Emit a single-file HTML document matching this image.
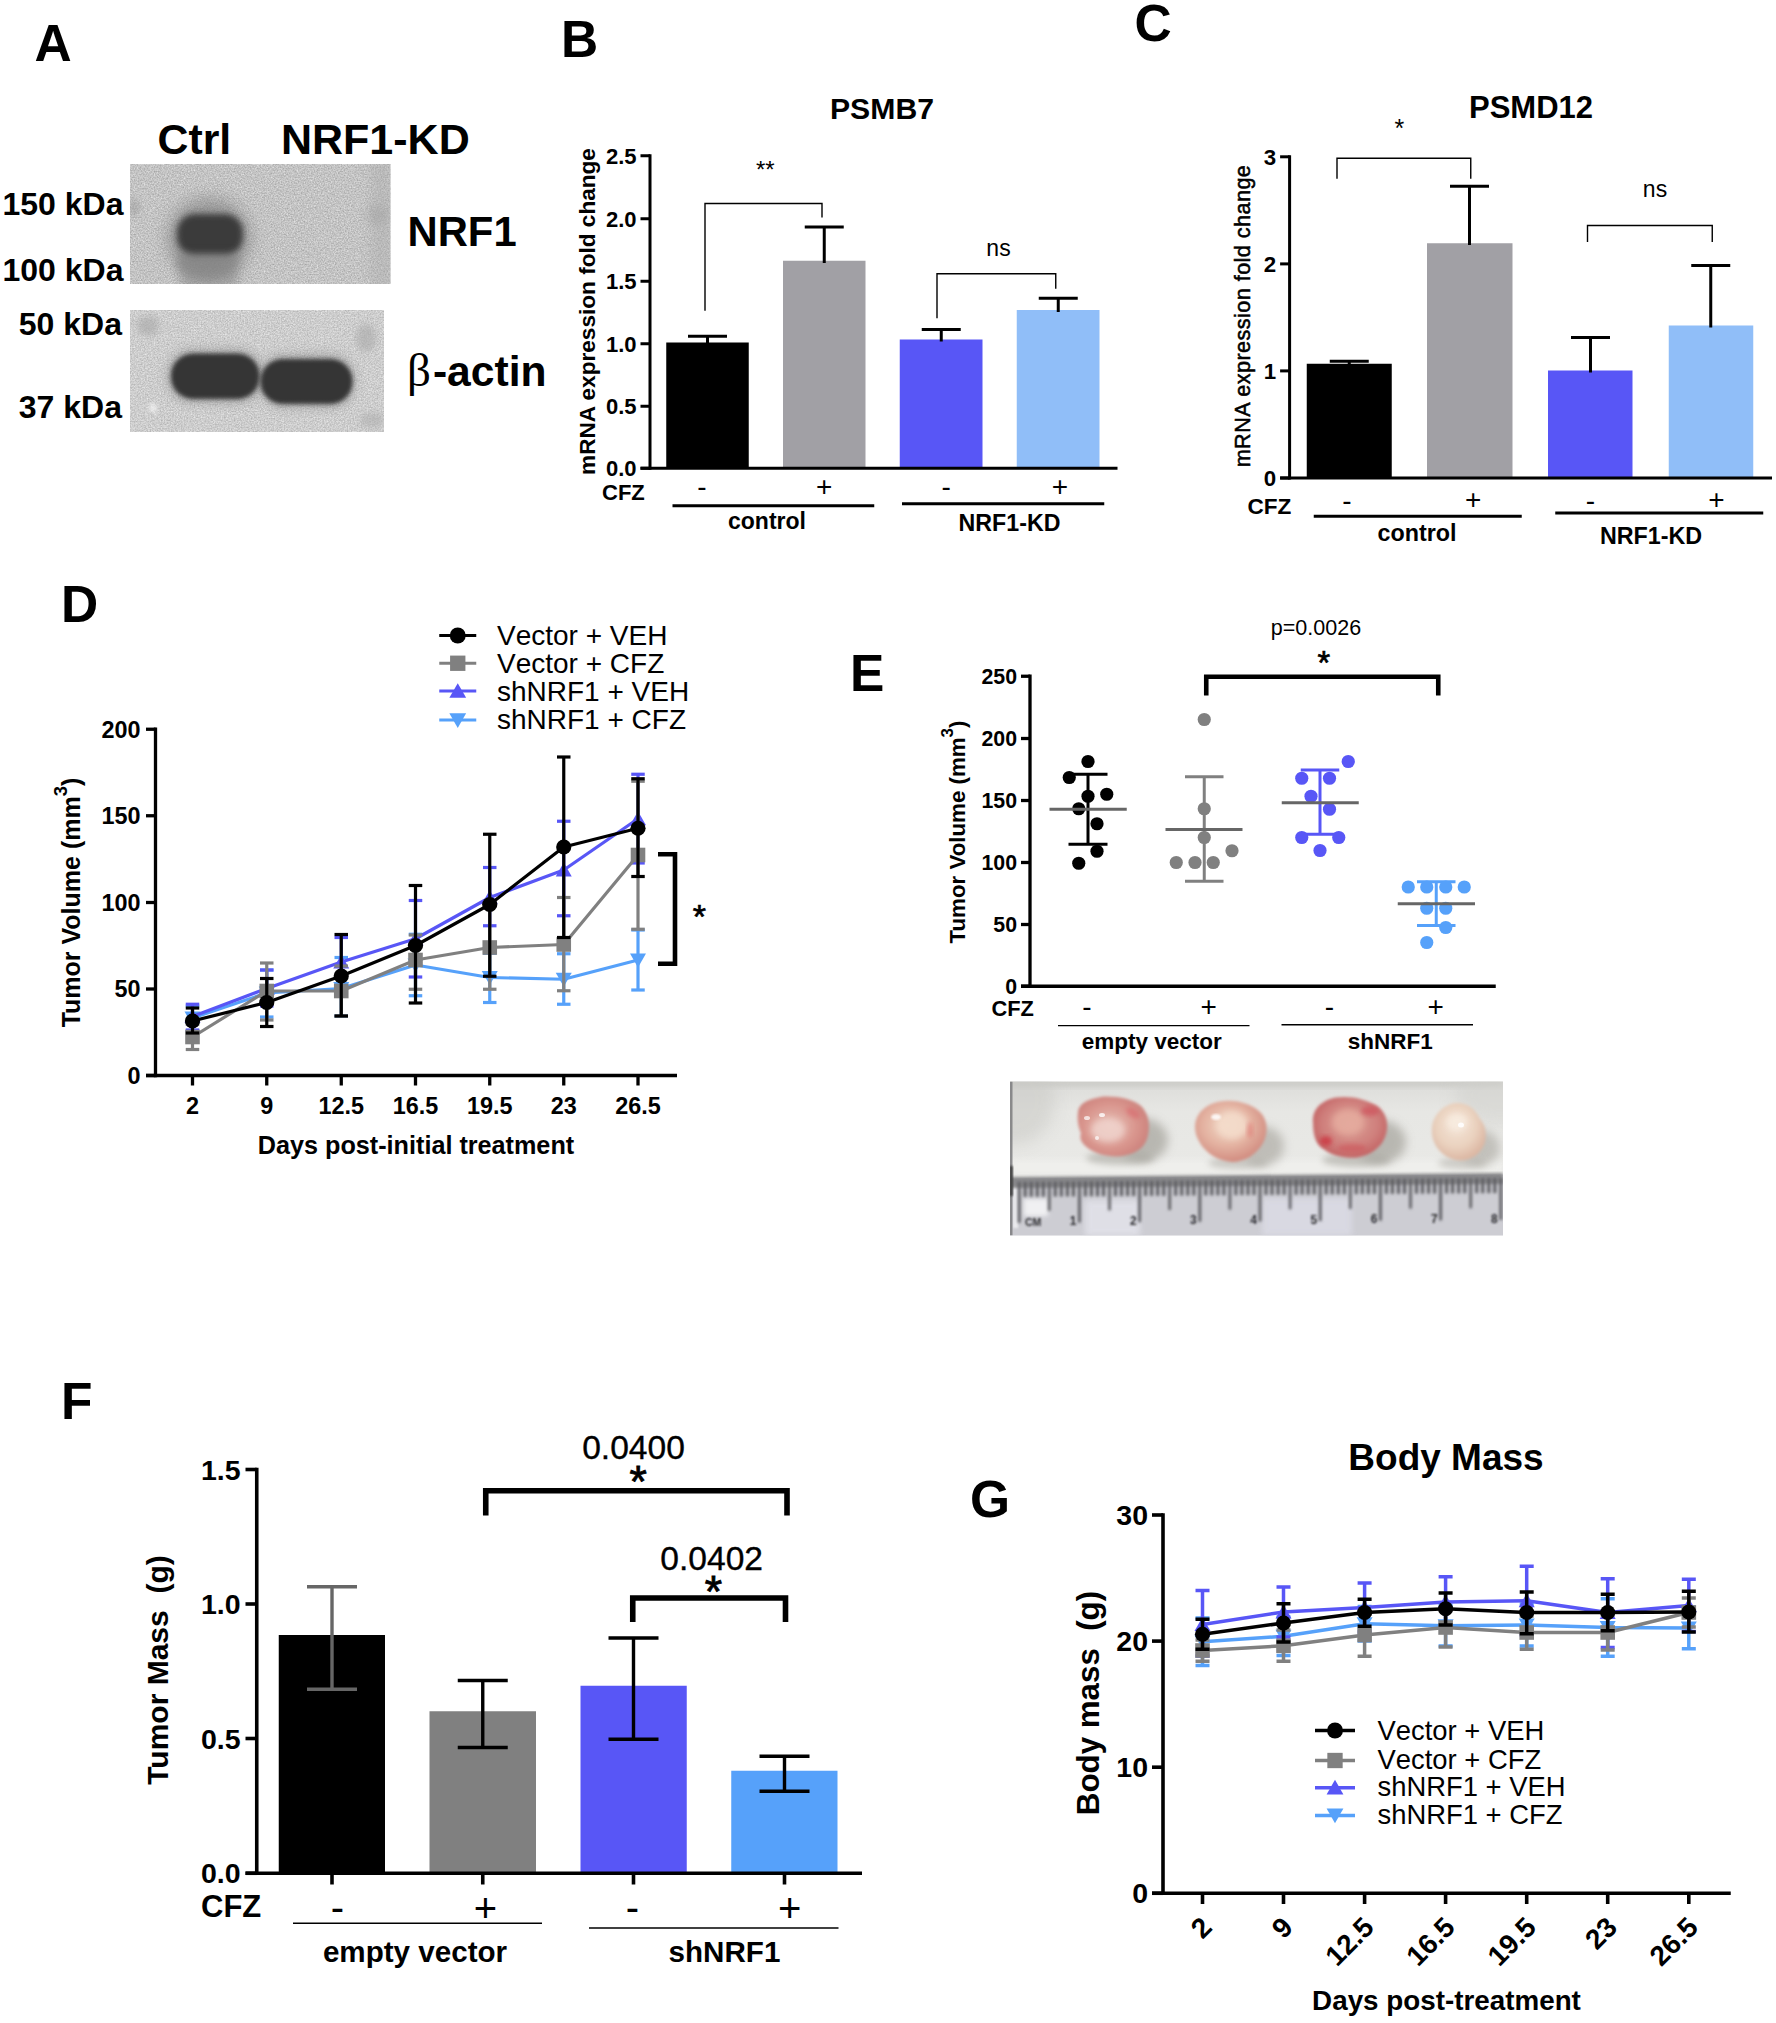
<!DOCTYPE html>
<html lang="en"><head><meta charset="utf-8"><title>Figure</title>
<style>html,body{margin:0;padding:0;background:#fff}svg{display:block}text{white-space:pre}</style>
</head><body>
<svg width="1776" height="2023" viewBox="0 0 1776 2023" font-family='"Liberation Sans", sans-serif'>
<defs>
<filter id="noise" x="0" y="0" width="100%" height="100%" color-interpolation-filters="sRGB">
<feTurbulence type="fractalNoise" baseFrequency="0.7" numOctaves="2" seed="7"/>
<feColorMatrix type="matrix" values="0.4 0 0 0 0.565  0.4 0 0 0 0.565  0.4 0 0 0 0.565  0 0 0 0 1"/>
</filter>
<filter id="noise2" x="0" y="0" width="100%" height="100%" color-interpolation-filters="sRGB">
<feTurbulence type="fractalNoise" baseFrequency="0.7" numOctaves="2" seed="11"/>
<feColorMatrix type="matrix" values="0.35 0 0 0 0.63  0.35 0 0 0 0.63  0.35 0 0 0 0.63  0 0 0 0 1"/>
</filter>
<filter id="b2" x="-30%" y="-30%" width="160%" height="160%"><feGaussianBlur stdDeviation="2"/></filter>
<filter id="b3" x="-30%" y="-30%" width="160%" height="160%"><feGaussianBlur stdDeviation="3.2"/></filter>
<filter id="b5" x="-40%" y="-40%" width="180%" height="180%"><feGaussianBlur stdDeviation="5"/></filter>
<filter id="b8" x="-50%" y="-50%" width="200%" height="200%"><feGaussianBlur stdDeviation="8"/></filter>
<filter id="b15" x="-10%" y="-10%" width="120%" height="120%"><feGaussianBlur stdDeviation="1.5"/></filter>
<filter id="b1" x="-10%" y="-10%" width="120%" height="120%"><feGaussianBlur stdDeviation="1.1"/></filter>
<filter id="b07" x="-10%" y="-10%" width="120%" height="120%"><feGaussianBlur stdDeviation="0.7"/></filter>
<clipPath id="cb1"><rect x="130" y="164" width="260.5" height="120"/></clipPath>
<clipPath id="cb2"><rect x="130" y="310" width="254" height="122"/></clipPath>
<clipPath id="cph"><rect x="1010" y="1081.5" width="493" height="154"/></clipPath>
<linearGradient id="phbg" x1="0" y1="0" x2="0" y2="1">
<stop offset="0" stop-color="#dcdcd9"/><stop offset="0.2" stop-color="#e7e7e4"/><stop offset="0.6" stop-color="#e9e9e6"/><stop offset="1" stop-color="#ececea"/>
</linearGradient>
<radialGradient id="t1" cx="0.45" cy="0.5" r="0.62"><stop offset="0" stop-color="#e6bfb6"/><stop offset="0.6" stop-color="#d9958d"/><stop offset="1" stop-color="#c97d78"/></radialGradient>
<radialGradient id="t2" cx="0.45" cy="0.4" r="0.6"><stop offset="0" stop-color="#eed6c4"/><stop offset="0.55" stop-color="#e4b3a2"/><stop offset="1" stop-color="#d28c80"/></radialGradient>
<radialGradient id="t3" cx="0.5" cy="0.45" r="0.62"><stop offset="0" stop-color="#dba196"/><stop offset="0.6" stop-color="#cf7f7c"/><stop offset="1" stop-color="#bf5a5c"/></radialGradient>
<radialGradient id="t4" cx="0.45" cy="0.4" r="0.6"><stop offset="0" stop-color="#f3e3d5"/><stop offset="0.6" stop-color="#ead2bf"/><stop offset="1" stop-color="#dcb7a3"/></radialGradient>
</defs>
<rect width="1776" height="2023" fill="#fff"/>
<g id="panelA">
<text x="34.5" y="61.3" font-size="51.5" font-weight="700" text-anchor="start" fill="#000">A</text>
<text x="157.5" y="154" font-size="42.8" font-weight="700" text-anchor="start" fill="#000">Ctrl</text>
<text x="281" y="154" font-size="43" font-weight="700" text-anchor="start" fill="#000">NRF1-KD</text>
<g clip-path="url(#cb1)">
<rect x="130" y="164" width="260.5" height="120" fill="#c5c5c5"/>
<rect x="130" y="164" width="260.5" height="120" filter="url(#noise)" opacity="0.85"/>
<ellipse cx="209" cy="238" rx="42" ry="40" fill="#7c7c7c" opacity="0.62" filter="url(#b8)"/>
<ellipse cx="207" cy="263" rx="31" ry="17" fill="#808080" opacity="0.5" filter="url(#b5)"/>
<rect x="177" y="214" width="66" height="41" rx="18" fill="#3a3a3a" filter="url(#b3)"/>
<ellipse cx="134" cy="207" rx="6" ry="9" fill="#9a9a9a" opacity="0.5" filter="url(#b3)"/>
<rect x="180" y="254" width="58" height="36" fill="#858585" opacity="0.45" filter="url(#b5)"/>
<ellipse cx="378" cy="215" rx="10" ry="10" fill="#a0a0a0" opacity="0.5" filter="url(#b5)"/>
<rect x="370" y="160" width="24" height="130" fill="#a8a8a8" opacity="0.35" filter="url(#b5)"/>
</g>
<g clip-path="url(#cb2)">
<rect x="130" y="310" width="254" height="122" fill="#cecece"/>
<rect x="130" y="310" width="254" height="122" filter="url(#noise2)" opacity="0.85"/>
<rect x="166" y="348" width="98" height="56" rx="26" fill="#8f8f8f" opacity="0.5" filter="url(#b5)"/>
<rect x="258" y="353" width="98" height="56" rx="26" fill="#8f8f8f" opacity="0.5" filter="url(#b5)"/>
<rect x="171" y="353.5" width="88.5" height="45.5" rx="22" fill="#353535" filter="url(#b2)"/>
<rect x="260.5" y="359" width="92" height="45" rx="22" fill="#353535" filter="url(#b2)"/>
<ellipse cx="148" cy="326" rx="11" ry="10" fill="#a8a8a8" opacity="0.6" filter="url(#b3)"/>
<ellipse cx="366" cy="338" rx="10" ry="14" fill="#aaaaaa" opacity="0.6" filter="url(#b3)"/>
<ellipse cx="153" cy="408" rx="4" ry="4" fill="#f2f2f2" opacity="0.9" filter="url(#b2)"/>
<ellipse cx="372" cy="420" rx="12" ry="8" fill="#b0b0b0" opacity="0.6" filter="url(#b3)"/>
</g>
<text x="123.5" y="214.5" font-size="32" font-weight="700" text-anchor="end" fill="#000">150 kDa</text>
<text x="123.5" y="280.5" font-size="32" font-weight="700" text-anchor="end" fill="#000">100 kDa</text>
<text x="122" y="335" font-size="32" font-weight="700" text-anchor="end" fill="#000">50 kDa</text>
<text x="122" y="417.5" font-size="32" font-weight="700" text-anchor="end" fill="#000">37 kDa</text>
<text x="407.5" y="246" font-size="41.8" font-weight="700" text-anchor="start" fill="#000">NRF1</text>
<text x="407" y="386" font-size="42.6" font-weight="700"><tspan font-family='"Liberation Serif", "DejaVu Serif", serif' font-weight="400" font-size="47">β</tspan><tspan dx="2">-actin</tspan></text>
</g>
<g id="panelB">
<text x="561" y="56.8" font-size="51.5" font-weight="700" text-anchor="start" fill="#000">B</text>
<text x="882" y="119.3" font-size="30.2" font-weight="700" text-anchor="middle" fill="#000">PSMB7</text>
<rect x="666.25" y="342.5" width="82.5" height="125.75" fill="#000"/>
<rect x="783" y="260.75" width="82.5" height="207.5" fill="#a1a0a5"/>
<rect x="899.75" y="339.5" width="82.75" height="128.75" fill="#5856f6"/>
<rect x="1016.75" y="310" width="82.75" height="158.25" fill="#90bef8"/>
<line x1="707.5" y1="336.25" x2="707.5" y2="344" stroke="#000" stroke-width="3.0" stroke-linecap="butt"/>
<line x1="688.0" y1="336.25" x2="727.0" y2="336.25" stroke="#000" stroke-width="3.0" stroke-linecap="butt"/>
<line x1="824.25" y1="227" x2="824.25" y2="263" stroke="#000" stroke-width="3.0" stroke-linecap="butt"/>
<line x1="804.75" y1="227" x2="843.75" y2="227" stroke="#000" stroke-width="3.0" stroke-linecap="butt"/>
<line x1="941.25" y1="329.5" x2="941.25" y2="341.5" stroke="#000" stroke-width="3.0" stroke-linecap="butt"/>
<line x1="921.75" y1="329.5" x2="960.75" y2="329.5" stroke="#000" stroke-width="3.0" stroke-linecap="butt"/>
<line x1="1058.25" y1="298.25" x2="1058.25" y2="312" stroke="#000" stroke-width="3.0" stroke-linecap="butt"/>
<line x1="1038.75" y1="298.25" x2="1077.75" y2="298.25" stroke="#000" stroke-width="3.0" stroke-linecap="butt"/>
<line x1="650" y1="154.25" x2="650" y2="469.75" stroke="#000" stroke-width="3.0" stroke-linecap="butt"/>
<line x1="640.5" y1="468.25" x2="1117.5" y2="468.25" stroke="#000" stroke-width="3.0" stroke-linecap="butt"/>
<line x1="640.5" y1="155.75" x2="650" y2="155.75" stroke="#000" stroke-width="3.0" stroke-linecap="butt"/>
<text x="636.5" y="163.55" font-size="22" font-weight="700" text-anchor="end" fill="#000">2.5</text>
<line x1="640.5" y1="218.75" x2="650" y2="218.75" stroke="#000" stroke-width="3.0" stroke-linecap="butt"/>
<text x="636.5" y="226.55" font-size="22" font-weight="700" text-anchor="end" fill="#000">2.0</text>
<line x1="640.5" y1="281.25" x2="650" y2="281.25" stroke="#000" stroke-width="3.0" stroke-linecap="butt"/>
<text x="636.5" y="289.05" font-size="22" font-weight="700" text-anchor="end" fill="#000">1.5</text>
<line x1="640.5" y1="343.75" x2="650" y2="343.75" stroke="#000" stroke-width="3.0" stroke-linecap="butt"/>
<text x="636.5" y="351.55" font-size="22" font-weight="700" text-anchor="end" fill="#000">1.0</text>
<line x1="640.5" y1="406.25" x2="650" y2="406.25" stroke="#000" stroke-width="3.0" stroke-linecap="butt"/>
<text x="636.5" y="414.05" font-size="22" font-weight="700" text-anchor="end" fill="#000">0.5</text>
<line x1="640.5" y1="468.25" x2="650" y2="468.25" stroke="#000" stroke-width="3.0" stroke-linecap="butt"/>
<text x="636.5" y="476.05" font-size="22" font-weight="700" text-anchor="end" fill="#000">0.0</text>
<path d="M705 310.75V203.5H822V217.5" stroke="#000" stroke-width="1.4" fill="none" stroke-linejoin="miter"/>
<path d="M937 318.25V273.75H1055.75V288.75" stroke="#000" stroke-width="1.4" fill="none" stroke-linejoin="miter"/>
<text x="755.9" y="177.5" font-size="24" font-weight="400" text-anchor="start" fill="#000">**</text>
<text x="998.5" y="256.25" font-size="23" font-weight="400" text-anchor="middle" fill="#000">ns</text>
<text x="602" y="500" font-size="22" font-weight="700" text-anchor="start" fill="#000">CFZ</text>
<text x="702" y="495.7" font-size="28" font-weight="400" text-anchor="middle" fill="#000">-</text>
<text x="824.25" y="496.2" font-size="28" font-weight="400" text-anchor="middle" fill="#000">+</text>
<text x="946.25" y="495.7" font-size="28" font-weight="400" text-anchor="middle" fill="#000">-</text>
<text x="1060" y="496.2" font-size="28" font-weight="400" text-anchor="middle" fill="#000">+</text>
<text x="767" y="528.6" font-size="23" font-weight="700" text-anchor="middle" fill="#000">control</text>
<text x="1009.5" y="530.5" font-size="23.2" font-weight="700" text-anchor="middle" fill="#000">NRF1-KD</text>
<text x="595" y="311.5" font-size="22.6" font-weight="700" text-anchor="middle" fill="#000" transform="rotate(-90 595 311.5)">mRNA expression fold change</text>
<line x1="672.5" y1="505.75" x2="874.25" y2="505.75" stroke="#000" stroke-width="3.0" stroke-linecap="butt"/>
<line x1="902" y1="503.75" x2="1104.25" y2="503.75" stroke="#000" stroke-width="3.0" stroke-linecap="butt"/>
</g>
<g id="panelC">
<text x="1134.5" y="41" font-size="51.5" font-weight="700" text-anchor="start" fill="#000">C</text>
<text x="1531" y="118" font-size="31" font-weight="700" text-anchor="middle" fill="#000">PSMD12</text>
<rect x="1306.75" y="363.75" width="85.0" height="114.25" fill="#000"/>
<rect x="1427" y="243.25" width="85.5" height="234.75" fill="#a1a0a5"/>
<rect x="1548" y="370.5" width="84.5" height="107.5" fill="#5856f6"/>
<rect x="1668.75" y="325.5" width="84.5" height="152.5" fill="#90bef8"/>
<line x1="1349.25" y1="361.25" x2="1349.25" y2="365" stroke="#000" stroke-width="3.0" stroke-linecap="butt"/>
<line x1="1329.75" y1="361.25" x2="1368.75" y2="361.25" stroke="#000" stroke-width="3.0" stroke-linecap="butt"/>
<line x1="1469.5" y1="186.25" x2="1469.5" y2="245" stroke="#000" stroke-width="3.0" stroke-linecap="butt"/>
<line x1="1450.0" y1="186.25" x2="1489.0" y2="186.25" stroke="#000" stroke-width="3.0" stroke-linecap="butt"/>
<line x1="1590.5" y1="337.5" x2="1590.5" y2="372.5" stroke="#000" stroke-width="3.0" stroke-linecap="butt"/>
<line x1="1571.0" y1="337.5" x2="1610.0" y2="337.5" stroke="#000" stroke-width="3.0" stroke-linecap="butt"/>
<line x1="1710.75" y1="265.5" x2="1710.75" y2="327.5" stroke="#000" stroke-width="3.0" stroke-linecap="butt"/>
<line x1="1691.25" y1="265.5" x2="1730.25" y2="265.5" stroke="#000" stroke-width="3.0" stroke-linecap="butt"/>
<line x1="1289.6" y1="155.3" x2="1289.6" y2="479.5" stroke="#000" stroke-width="3.0" stroke-linecap="butt"/>
<line x1="1280.1" y1="478" x2="1772" y2="478" stroke="#000" stroke-width="3.0" stroke-linecap="butt"/>
<line x1="1280.1" y1="156.8" x2="1289.6" y2="156.8" stroke="#000" stroke-width="3.0" stroke-linecap="butt"/>
<text x="1276.1" y="164.70000000000002" font-size="22.3" font-weight="700" text-anchor="end" fill="#000">3</text>
<line x1="1280.1" y1="263.9" x2="1289.6" y2="263.9" stroke="#000" stroke-width="3.0" stroke-linecap="butt"/>
<text x="1276.1" y="271.79999999999995" font-size="22.3" font-weight="700" text-anchor="end" fill="#000">2</text>
<line x1="1280.1" y1="370.9" x2="1289.6" y2="370.9" stroke="#000" stroke-width="3.0" stroke-linecap="butt"/>
<text x="1276.1" y="378.79999999999995" font-size="22.3" font-weight="700" text-anchor="end" fill="#000">1</text>
<line x1="1280.1" y1="478" x2="1289.6" y2="478" stroke="#000" stroke-width="3.0" stroke-linecap="butt"/>
<text x="1276.1" y="485.9" font-size="22.3" font-weight="700" text-anchor="end" fill="#000">0</text>
<path d="M1337 178.75V158.25H1470.75V178.75" stroke="#000" stroke-width="1.4" fill="none" stroke-linejoin="miter"/>
<path d="M1587.5 242V225.5H1712.25V242" stroke="#000" stroke-width="1.4" fill="none" stroke-linejoin="miter"/>
<text x="1394.6" y="136.5" font-size="25" font-weight="400" text-anchor="start" fill="#000">*</text>
<text x="1655" y="196.75" font-size="23" font-weight="400" text-anchor="middle" fill="#000">ns</text>
<text x="1247.5" y="514.4" font-size="22.6" font-weight="700" text-anchor="start" fill="#000">CFZ</text>
<text x="1347" y="510" font-size="28" font-weight="400" text-anchor="middle" fill="#000">-</text>
<text x="1473.25" y="509.3" font-size="28" font-weight="400" text-anchor="middle" fill="#000">+</text>
<text x="1590.5" y="510" font-size="28" font-weight="400" text-anchor="middle" fill="#000">-</text>
<text x="1716.5" y="509.3" font-size="28" font-weight="400" text-anchor="middle" fill="#000">+</text>
<text x="1417" y="541.25" font-size="23.3" font-weight="700" text-anchor="middle" fill="#000">control</text>
<text x="1651" y="543.75" font-size="23.3" font-weight="700" text-anchor="middle" fill="#000">NRF1-KD</text>
<text x="1249.6" y="316" font-size="21.6" font-weight="400" text-anchor="middle" fill="#000" transform="rotate(-90 1249.6 316)" stroke="#000" stroke-width="0.55" letter-spacing="0.45">mRNA expression fold change</text>
<line x1="1313.75" y1="516.25" x2="1521.75" y2="516.25" stroke="#000" stroke-width="3.0" stroke-linecap="butt"/>
<line x1="1555.25" y1="513" x2="1763.25" y2="513" stroke="#000" stroke-width="3.0" stroke-linecap="butt"/>
</g>
<g id="panelD">
<text x="61" y="621.5" font-size="51.5" font-weight="700" text-anchor="start" fill="#000">D</text>
<line x1="192.5" y1="1006" x2="192.5" y2="1031" stroke="#56a1fa" stroke-width="3.2" stroke-linecap="butt"/>
<line x1="185.75" y1="1006" x2="199.25" y2="1006" stroke="#56a1fa" stroke-width="3.2" stroke-linecap="butt"/>
<line x1="185.75" y1="1031" x2="199.25" y2="1031" stroke="#56a1fa" stroke-width="3.2" stroke-linecap="butt"/>
<line x1="266.75" y1="970" x2="266.75" y2="1017" stroke="#56a1fa" stroke-width="3.2" stroke-linecap="butt"/>
<line x1="260.0" y1="970" x2="273.5" y2="970" stroke="#56a1fa" stroke-width="3.2" stroke-linecap="butt"/>
<line x1="260.0" y1="1017" x2="273.5" y2="1017" stroke="#56a1fa" stroke-width="3.2" stroke-linecap="butt"/>
<line x1="341.25" y1="957.5" x2="341.25" y2="1016" stroke="#56a1fa" stroke-width="3.2" stroke-linecap="butt"/>
<line x1="334.5" y1="957.5" x2="348.0" y2="957.5" stroke="#56a1fa" stroke-width="3.2" stroke-linecap="butt"/>
<line x1="334.5" y1="1016" x2="348.0" y2="1016" stroke="#56a1fa" stroke-width="3.2" stroke-linecap="butt"/>
<line x1="415.5" y1="934.25" x2="415.5" y2="995.75" stroke="#56a1fa" stroke-width="3.2" stroke-linecap="butt"/>
<line x1="408.75" y1="934.25" x2="422.25" y2="934.25" stroke="#56a1fa" stroke-width="3.2" stroke-linecap="butt"/>
<line x1="408.75" y1="995.75" x2="422.25" y2="995.75" stroke="#56a1fa" stroke-width="3.2" stroke-linecap="butt"/>
<line x1="489.75" y1="953.25" x2="489.75" y2="1002.5" stroke="#56a1fa" stroke-width="3.2" stroke-linecap="butt"/>
<line x1="483.0" y1="953.25" x2="496.5" y2="953.25" stroke="#56a1fa" stroke-width="3.2" stroke-linecap="butt"/>
<line x1="483.0" y1="1002.5" x2="496.5" y2="1002.5" stroke="#56a1fa" stroke-width="3.2" stroke-linecap="butt"/>
<line x1="563.75" y1="953.75" x2="563.75" y2="1004.25" stroke="#56a1fa" stroke-width="3.2" stroke-linecap="butt"/>
<line x1="557.0" y1="953.75" x2="570.5" y2="953.75" stroke="#56a1fa" stroke-width="3.2" stroke-linecap="butt"/>
<line x1="557.0" y1="1004.25" x2="570.5" y2="1004.25" stroke="#56a1fa" stroke-width="3.2" stroke-linecap="butt"/>
<line x1="638" y1="930" x2="638" y2="990" stroke="#56a1fa" stroke-width="3.2" stroke-linecap="butt"/>
<line x1="631.25" y1="930" x2="644.75" y2="930" stroke="#56a1fa" stroke-width="3.2" stroke-linecap="butt"/>
<line x1="631.25" y1="990" x2="644.75" y2="990" stroke="#56a1fa" stroke-width="3.2" stroke-linecap="butt"/>
<polyline points="192.5,1018 266.75,993 341.25,988.5 415.5,965 489.75,977.5 563.75,979.25 638,960" fill="none" stroke="#56a1fa" stroke-width="3.2" stroke-linejoin="round"/>
<path d="M184.5 1011.5L200.5 1011.5L192.5 1025.5Z" fill="#56a1fa"/>
<path d="M258.75 986.5L274.75 986.5L266.75 1000.5Z" fill="#56a1fa"/>
<path d="M333.25 982.0L349.25 982.0L341.25 996.0Z" fill="#56a1fa"/>
<path d="M407.5 958.5L423.5 958.5L415.5 972.5Z" fill="#56a1fa"/>
<path d="M481.75 971.0L497.75 971.0L489.75 985.0Z" fill="#56a1fa"/>
<path d="M555.75 972.75L571.75 972.75L563.75 986.75Z" fill="#56a1fa"/>
<path d="M630.0 953.5L646.0 953.5L638 967.5Z" fill="#56a1fa"/>
<line x1="192.5" y1="1004.25" x2="192.5" y2="1030" stroke="#5856f6" stroke-width="3.2" stroke-linecap="butt"/>
<line x1="185.75" y1="1004.25" x2="199.25" y2="1004.25" stroke="#5856f6" stroke-width="3.2" stroke-linecap="butt"/>
<line x1="185.75" y1="1030" x2="199.25" y2="1030" stroke="#5856f6" stroke-width="3.2" stroke-linecap="butt"/>
<line x1="266.75" y1="970" x2="266.75" y2="1006" stroke="#5856f6" stroke-width="3.2" stroke-linecap="butt"/>
<line x1="260.0" y1="970" x2="273.5" y2="970" stroke="#5856f6" stroke-width="3.2" stroke-linecap="butt"/>
<line x1="260.0" y1="1006" x2="273.5" y2="1006" stroke="#5856f6" stroke-width="3.2" stroke-linecap="butt"/>
<line x1="341.25" y1="937.5" x2="341.25" y2="986.5" stroke="#5856f6" stroke-width="3.2" stroke-linecap="butt"/>
<line x1="334.5" y1="937.5" x2="348.0" y2="937.5" stroke="#5856f6" stroke-width="3.2" stroke-linecap="butt"/>
<line x1="334.5" y1="986.5" x2="348.0" y2="986.5" stroke="#5856f6" stroke-width="3.2" stroke-linecap="butt"/>
<line x1="415.5" y1="900.5" x2="415.5" y2="977" stroke="#5856f6" stroke-width="3.2" stroke-linecap="butt"/>
<line x1="408.75" y1="900.5" x2="422.25" y2="900.5" stroke="#5856f6" stroke-width="3.2" stroke-linecap="butt"/>
<line x1="408.75" y1="977" x2="422.25" y2="977" stroke="#5856f6" stroke-width="3.2" stroke-linecap="butt"/>
<line x1="489.75" y1="867.5" x2="489.75" y2="925.75" stroke="#5856f6" stroke-width="3.2" stroke-linecap="butt"/>
<line x1="483.0" y1="867.5" x2="496.5" y2="867.5" stroke="#5856f6" stroke-width="3.2" stroke-linecap="butt"/>
<line x1="483.0" y1="925.75" x2="496.5" y2="925.75" stroke="#5856f6" stroke-width="3.2" stroke-linecap="butt"/>
<line x1="563.75" y1="821.25" x2="563.75" y2="915.75" stroke="#5856f6" stroke-width="3.2" stroke-linecap="butt"/>
<line x1="557.0" y1="821.25" x2="570.5" y2="821.25" stroke="#5856f6" stroke-width="3.2" stroke-linecap="butt"/>
<line x1="557.0" y1="915.75" x2="570.5" y2="915.75" stroke="#5856f6" stroke-width="3.2" stroke-linecap="butt"/>
<line x1="638" y1="774.25" x2="638" y2="863" stroke="#5856f6" stroke-width="3.2" stroke-linecap="butt"/>
<line x1="631.25" y1="774.25" x2="644.75" y2="774.25" stroke="#5856f6" stroke-width="3.2" stroke-linecap="butt"/>
<line x1="631.25" y1="863" x2="644.75" y2="863" stroke="#5856f6" stroke-width="3.2" stroke-linecap="butt"/>
<polyline points="192.5,1016.5 266.75,988.5 341.25,962 415.5,938.75 489.75,897.5 563.75,870 638,818.75" fill="none" stroke="#5856f6" stroke-width="3.2" stroke-linejoin="round"/>
<path d="M184.5 1023.0L200.5 1023.0L192.5 1009.0Z" fill="#5856f6"/>
<path d="M258.75 995.0L274.75 995.0L266.75 981.0Z" fill="#5856f6"/>
<path d="M333.25 968.5L349.25 968.5L341.25 954.5Z" fill="#5856f6"/>
<path d="M407.5 945.25L423.5 945.25L415.5 931.25Z" fill="#5856f6"/>
<path d="M481.75 904.0L497.75 904.0L489.75 890.0Z" fill="#5856f6"/>
<path d="M555.75 876.5L571.75 876.5L563.75 862.5Z" fill="#5856f6"/>
<path d="M630.0 825.25L646.0 825.25L638 811.25Z" fill="#5856f6"/>
<line x1="192.5" y1="1024.5" x2="192.5" y2="1049.5" stroke="#808080" stroke-width="3.2" stroke-linecap="butt"/>
<line x1="185.75" y1="1024.5" x2="199.25" y2="1024.5" stroke="#808080" stroke-width="3.2" stroke-linecap="butt"/>
<line x1="185.75" y1="1049.5" x2="199.25" y2="1049.5" stroke="#808080" stroke-width="3.2" stroke-linecap="butt"/>
<line x1="266.75" y1="963" x2="266.75" y2="1020" stroke="#808080" stroke-width="3.2" stroke-linecap="butt"/>
<line x1="260.0" y1="963" x2="273.5" y2="963" stroke="#808080" stroke-width="3.2" stroke-linecap="butt"/>
<line x1="260.0" y1="1020" x2="273.5" y2="1020" stroke="#808080" stroke-width="3.2" stroke-linecap="butt"/>
<line x1="341.25" y1="966" x2="341.25" y2="1016" stroke="#808080" stroke-width="3.2" stroke-linecap="butt"/>
<line x1="334.5" y1="966" x2="348.0" y2="966" stroke="#808080" stroke-width="3.2" stroke-linecap="butt"/>
<line x1="334.5" y1="1016" x2="348.0" y2="1016" stroke="#808080" stroke-width="3.2" stroke-linecap="butt"/>
<line x1="415.5" y1="935" x2="415.5" y2="989.25" stroke="#808080" stroke-width="3.2" stroke-linecap="butt"/>
<line x1="408.75" y1="935" x2="422.25" y2="935" stroke="#808080" stroke-width="3.2" stroke-linecap="butt"/>
<line x1="408.75" y1="989.25" x2="422.25" y2="989.25" stroke="#808080" stroke-width="3.2" stroke-linecap="butt"/>
<line x1="489.75" y1="905.75" x2="489.75" y2="989.25" stroke="#808080" stroke-width="3.2" stroke-linecap="butt"/>
<line x1="483.0" y1="905.75" x2="496.5" y2="905.75" stroke="#808080" stroke-width="3.2" stroke-linecap="butt"/>
<line x1="483.0" y1="989.25" x2="496.5" y2="989.25" stroke="#808080" stroke-width="3.2" stroke-linecap="butt"/>
<line x1="563.75" y1="897.5" x2="563.75" y2="990.75" stroke="#808080" stroke-width="3.2" stroke-linecap="butt"/>
<line x1="557.0" y1="897.5" x2="570.5" y2="897.5" stroke="#808080" stroke-width="3.2" stroke-linecap="butt"/>
<line x1="557.0" y1="990.75" x2="570.5" y2="990.75" stroke="#808080" stroke-width="3.2" stroke-linecap="butt"/>
<line x1="638" y1="781.25" x2="638" y2="929.25" stroke="#808080" stroke-width="3.2" stroke-linecap="butt"/>
<line x1="631.25" y1="781.25" x2="644.75" y2="781.25" stroke="#808080" stroke-width="3.2" stroke-linecap="butt"/>
<line x1="631.25" y1="929.25" x2="644.75" y2="929.25" stroke="#808080" stroke-width="3.2" stroke-linecap="butt"/>
<polyline points="192.5,1037 266.75,991 341.25,991 415.5,960 489.75,947.5 563.75,944.5 638,855" fill="none" stroke="#808080" stroke-width="3.2" stroke-linejoin="round"/>
<rect x="185.2" y="1029.7" width="14.6" height="14.6" fill="#808080"/>
<rect x="259.45" y="983.7" width="14.6" height="14.6" fill="#808080"/>
<rect x="333.95" y="983.7" width="14.6" height="14.6" fill="#808080"/>
<rect x="408.2" y="952.7" width="14.6" height="14.6" fill="#808080"/>
<rect x="482.45" y="940.2" width="14.6" height="14.6" fill="#808080"/>
<rect x="556.45" y="937.2" width="14.6" height="14.6" fill="#808080"/>
<rect x="630.7" y="847.7" width="14.6" height="14.6" fill="#808080"/>
<line x1="192.5" y1="1008" x2="192.5" y2="1033" stroke="#000" stroke-width="3.2" stroke-linecap="butt"/>
<line x1="185.75" y1="1008" x2="199.25" y2="1008" stroke="#000" stroke-width="3.2" stroke-linecap="butt"/>
<line x1="185.75" y1="1033" x2="199.25" y2="1033" stroke="#000" stroke-width="3.2" stroke-linecap="butt"/>
<line x1="266.75" y1="978.5" x2="266.75" y2="1026.5" stroke="#000" stroke-width="3.2" stroke-linecap="butt"/>
<line x1="260.0" y1="978.5" x2="273.5" y2="978.5" stroke="#000" stroke-width="3.2" stroke-linecap="butt"/>
<line x1="260.0" y1="1026.5" x2="273.5" y2="1026.5" stroke="#000" stroke-width="3.2" stroke-linecap="butt"/>
<line x1="341.25" y1="934.5" x2="341.25" y2="1016" stroke="#000" stroke-width="3.2" stroke-linecap="butt"/>
<line x1="334.5" y1="934.5" x2="348.0" y2="934.5" stroke="#000" stroke-width="3.2" stroke-linecap="butt"/>
<line x1="334.5" y1="1016" x2="348.0" y2="1016" stroke="#000" stroke-width="3.2" stroke-linecap="butt"/>
<line x1="415.5" y1="885.5" x2="415.5" y2="1003" stroke="#000" stroke-width="3.2" stroke-linecap="butt"/>
<line x1="408.75" y1="885.5" x2="422.25" y2="885.5" stroke="#000" stroke-width="3.2" stroke-linecap="butt"/>
<line x1="408.75" y1="1003" x2="422.25" y2="1003" stroke="#000" stroke-width="3.2" stroke-linecap="butt"/>
<line x1="489.75" y1="834.25" x2="489.75" y2="976.25" stroke="#000" stroke-width="3.2" stroke-linecap="butt"/>
<line x1="483.0" y1="834.25" x2="496.5" y2="834.25" stroke="#000" stroke-width="3.2" stroke-linecap="butt"/>
<line x1="483.0" y1="976.25" x2="496.5" y2="976.25" stroke="#000" stroke-width="3.2" stroke-linecap="butt"/>
<line x1="563.75" y1="757" x2="563.75" y2="937.5" stroke="#000" stroke-width="3.2" stroke-linecap="butt"/>
<line x1="557.0" y1="757" x2="570.5" y2="757" stroke="#000" stroke-width="3.2" stroke-linecap="butt"/>
<line x1="557.0" y1="937.5" x2="570.5" y2="937.5" stroke="#000" stroke-width="3.2" stroke-linecap="butt"/>
<line x1="638" y1="778.75" x2="638" y2="876.5" stroke="#000" stroke-width="3.2" stroke-linecap="butt"/>
<line x1="631.25" y1="778.75" x2="644.75" y2="778.75" stroke="#000" stroke-width="3.2" stroke-linecap="butt"/>
<line x1="631.25" y1="876.5" x2="644.75" y2="876.5" stroke="#000" stroke-width="3.2" stroke-linecap="butt"/>
<polyline points="192.5,1021 266.75,1002.5 341.25,976 415.5,945.5 489.75,904.5 563.75,847 638,828.25" fill="none" stroke="#000" stroke-width="3.2" stroke-linejoin="round"/>
<circle cx="192.5" cy="1021" r="7.6" fill="#000"/>
<circle cx="266.75" cy="1002.5" r="7.6" fill="#000"/>
<circle cx="341.25" cy="976" r="7.6" fill="#000"/>
<circle cx="415.5" cy="945.5" r="7.6" fill="#000"/>
<circle cx="489.75" cy="904.5" r="7.6" fill="#000"/>
<circle cx="563.75" cy="847" r="7.6" fill="#000"/>
<circle cx="638" cy="828.25" r="7.6" fill="#000"/>
<line x1="155.5" y1="727.6" x2="155.5" y2="1077.15" stroke="#000" stroke-width="3.3" stroke-linecap="butt"/>
<line x1="146" y1="1075.5" x2="677" y2="1075.5" stroke="#000" stroke-width="3.3" stroke-linecap="butt"/>
<line x1="146" y1="729.25" x2="155.5" y2="729.25" stroke="#000" stroke-width="3.3" stroke-linecap="butt"/>
<text x="140.5" y="737.65" font-size="23.4" font-weight="700" text-anchor="end" fill="#000">200</text>
<line x1="146" y1="815.75" x2="155.5" y2="815.75" stroke="#000" stroke-width="3.3" stroke-linecap="butt"/>
<text x="140.5" y="824.15" font-size="23.4" font-weight="700" text-anchor="end" fill="#000">150</text>
<line x1="146" y1="902.5" x2="155.5" y2="902.5" stroke="#000" stroke-width="3.3" stroke-linecap="butt"/>
<text x="140.5" y="910.9" font-size="23.4" font-weight="700" text-anchor="end" fill="#000">100</text>
<line x1="146" y1="989" x2="155.5" y2="989" stroke="#000" stroke-width="3.3" stroke-linecap="butt"/>
<text x="140.5" y="997.4" font-size="23.4" font-weight="700" text-anchor="end" fill="#000">50</text>
<line x1="146" y1="1075.5" x2="155.5" y2="1075.5" stroke="#000" stroke-width="3.3" stroke-linecap="butt"/>
<text x="140.5" y="1083.9" font-size="23.4" font-weight="700" text-anchor="end" fill="#000">0</text>
<line x1="192.5" y1="1075.5" x2="192.5" y2="1085.5" stroke="#000" stroke-width="3.3" stroke-linecap="butt"/>
<text x="192.5" y="1113.5" font-size="23.4" font-weight="700" text-anchor="middle" fill="#000">2</text>
<line x1="266.75" y1="1075.5" x2="266.75" y2="1085.5" stroke="#000" stroke-width="3.3" stroke-linecap="butt"/>
<text x="266.75" y="1113.5" font-size="23.4" font-weight="700" text-anchor="middle" fill="#000">9</text>
<line x1="341.25" y1="1075.5" x2="341.25" y2="1085.5" stroke="#000" stroke-width="3.3" stroke-linecap="butt"/>
<text x="341.25" y="1113.5" font-size="23.4" font-weight="700" text-anchor="middle" fill="#000">12.5</text>
<line x1="415.5" y1="1075.5" x2="415.5" y2="1085.5" stroke="#000" stroke-width="3.3" stroke-linecap="butt"/>
<text x="415.5" y="1113.5" font-size="23.4" font-weight="700" text-anchor="middle" fill="#000">16.5</text>
<line x1="489.75" y1="1075.5" x2="489.75" y2="1085.5" stroke="#000" stroke-width="3.3" stroke-linecap="butt"/>
<text x="489.75" y="1113.5" font-size="23.4" font-weight="700" text-anchor="middle" fill="#000">19.5</text>
<line x1="563.75" y1="1075.5" x2="563.75" y2="1085.5" stroke="#000" stroke-width="3.3" stroke-linecap="butt"/>
<text x="563.75" y="1113.5" font-size="23.4" font-weight="700" text-anchor="middle" fill="#000">23</text>
<line x1="638" y1="1075.5" x2="638" y2="1085.5" stroke="#000" stroke-width="3.3" stroke-linecap="butt"/>
<text x="638" y="1113.5" font-size="23.4" font-weight="700" text-anchor="middle" fill="#000">26.5</text>
<text x="416" y="1153.5" font-size="25.2" font-weight="700" text-anchor="middle" fill="#000">Days post-initial treatment</text>
<text transform="rotate(-90 80 902.5)" x="80" y="902.5" font-size="25" font-weight="700" text-anchor="middle">Tumor Volume (mm<tspan font-size="18.5" dy="-13.5">3</tspan><tspan dy="13.5">)</tspan></text>
<line x1="439.25" y1="635.5" x2="476.25" y2="635.5" stroke="#000" stroke-width="3.2" stroke-linecap="butt"/>
<circle cx="457.75" cy="635.5" r="7.9799999999999995" fill="#000"/>
<text x="497" y="644.5" font-size="28" font-weight="400" text-anchor="start" fill="#000" style="font-kerning:none">Vector + VEH</text>
<line x1="439.25" y1="663.25" x2="476.25" y2="663.25" stroke="#808080" stroke-width="3.2" stroke-linecap="butt"/>
<rect x="450.085" y="655.585" width="15.33" height="15.33" fill="#808080"/>
<text x="497" y="672.5" font-size="28" font-weight="400" text-anchor="start" fill="#000" style="font-kerning:none">Vector + CFZ</text>
<line x1="439.25" y1="691" x2="476.25" y2="691" stroke="#5856f6" stroke-width="3.2" stroke-linecap="butt"/>
<path d="M449.35 697.825L466.15 697.825L457.75 683.125Z" fill="#5856f6"/>
<text x="497" y="700.5" font-size="28" font-weight="400" text-anchor="start" fill="#000" style="font-kerning:none">shNRF1 + VEH</text>
<line x1="439.25" y1="720" x2="476.25" y2="720" stroke="#56a1fa" stroke-width="3.2" stroke-linecap="butt"/>
<path d="M449.35 713.175L466.15 713.175L457.75 727.875Z" fill="#56a1fa"/>
<text x="497" y="728.75" font-size="28" font-weight="400" text-anchor="start" fill="#000" style="font-kerning:none">shNRF1 + CFZ</text>
<path d="M658 854.25H675V963.75H658" stroke="#000" stroke-width="4.6" fill="none" stroke-linejoin="miter"/>
<text x="692.7" y="928" font-size="34" font-weight="400" text-anchor="start" fill="#000" stroke="#000" stroke-width="0.7">*</text>
</g>
<g id="panelE">
<text x="850" y="690.5" font-size="51.5" font-weight="700" text-anchor="start" fill="#000">E</text>
<line x1="1088" y1="774.25" x2="1088" y2="844.25" stroke="#000" stroke-width="3" stroke-linecap="butt"/>
<line x1="1068.5" y1="774.25" x2="1107.5" y2="774.25" stroke="#000" stroke-width="3" stroke-linecap="butt"/>
<line x1="1068.5" y1="844.25" x2="1107.5" y2="844.25" stroke="#000" stroke-width="3" stroke-linecap="butt"/>
<circle cx="1088" cy="761.5" r="6.6" fill="#000"/>
<circle cx="1069.25" cy="777.5" r="6.6" fill="#000"/>
<circle cx="1088" cy="796.25" r="6.6" fill="#000"/>
<circle cx="1106.75" cy="794.25" r="6.6" fill="#000"/>
<circle cx="1078.75" cy="808.75" r="6.6" fill="#000"/>
<circle cx="1097" cy="823.75" r="6.6" fill="#000"/>
<circle cx="1097" cy="851.25" r="6.6" fill="#000"/>
<circle cx="1078.75" cy="863.25" r="6.6" fill="#000"/>
<line x1="1049.5" y1="809.25" x2="1126.75" y2="809.25" stroke="#666666" stroke-width="2.8" stroke-linecap="butt"/>
<line x1="1204.25" y1="776.75" x2="1204.25" y2="881.25" stroke="#808080" stroke-width="3" stroke-linecap="butt"/>
<line x1="1185.0" y1="776.75" x2="1223.5" y2="776.75" stroke="#808080" stroke-width="3" stroke-linecap="butt"/>
<line x1="1185.0" y1="881.25" x2="1223.5" y2="881.25" stroke="#808080" stroke-width="3" stroke-linecap="butt"/>
<circle cx="1204.25" cy="719.5" r="6.6" fill="#808080"/>
<circle cx="1204.25" cy="808.75" r="6.6" fill="#808080"/>
<circle cx="1204.25" cy="837.5" r="6.6" fill="#808080"/>
<circle cx="1232" cy="850.75" r="6.6" fill="#808080"/>
<circle cx="1176.25" cy="862.5" r="6.6" fill="#808080"/>
<circle cx="1195" cy="862.5" r="6.6" fill="#808080"/>
<circle cx="1213.25" cy="862.5" r="6.6" fill="#808080"/>
<line x1="1165.5" y1="829.5" x2="1242.5" y2="829.5" stroke="#666666" stroke-width="2.8" stroke-linecap="butt"/>
<line x1="1320" y1="770" x2="1320" y2="834.25" stroke="#5856f6" stroke-width="3" stroke-linecap="butt"/>
<line x1="1300.75" y1="770" x2="1339.25" y2="770" stroke="#5856f6" stroke-width="3" stroke-linecap="butt"/>
<line x1="1300.75" y1="834.25" x2="1339.25" y2="834.25" stroke="#5856f6" stroke-width="3" stroke-linecap="butt"/>
<circle cx="1348.25" cy="761.5" r="6.6" fill="#5856f6"/>
<circle cx="1301.75" cy="778.25" r="6.6" fill="#5856f6"/>
<circle cx="1329.5" cy="778.25" r="6.6" fill="#5856f6"/>
<circle cx="1311" cy="796.25" r="6.6" fill="#5856f6"/>
<circle cx="1329.5" cy="809.25" r="6.6" fill="#5856f6"/>
<circle cx="1301.75" cy="837.5" r="6.6" fill="#5856f6"/>
<circle cx="1338.75" cy="837.5" r="6.6" fill="#5856f6"/>
<circle cx="1320" cy="850.5" r="6.6" fill="#5856f6"/>
<line x1="1281.75" y1="802.75" x2="1358.75" y2="802.75" stroke="#666666" stroke-width="2.8" stroke-linecap="butt"/>
<line x1="1436.25" y1="881.75" x2="1436.25" y2="925.5" stroke="#56a1fa" stroke-width="3" stroke-linecap="butt"/>
<line x1="1417.0" y1="881.75" x2="1455.5" y2="881.75" stroke="#56a1fa" stroke-width="3" stroke-linecap="butt"/>
<line x1="1417.0" y1="925.5" x2="1455.5" y2="925.5" stroke="#56a1fa" stroke-width="3" stroke-linecap="butt"/>
<circle cx="1408.25" cy="887" r="6.6" fill="#56a1fa"/>
<circle cx="1426.75" cy="887" r="6.6" fill="#56a1fa"/>
<circle cx="1445.75" cy="887" r="6.6" fill="#56a1fa"/>
<circle cx="1464.25" cy="887" r="6.6" fill="#56a1fa"/>
<circle cx="1426.75" cy="908.25" r="6.6" fill="#56a1fa"/>
<circle cx="1445.75" cy="908.25" r="6.6" fill="#56a1fa"/>
<circle cx="1445.75" cy="927.5" r="6.6" fill="#56a1fa"/>
<circle cx="1426.75" cy="942.5" r="6.6" fill="#56a1fa"/>
<line x1="1397.75" y1="903.75" x2="1475" y2="903.75" stroke="#666666" stroke-width="2.8" stroke-linecap="butt"/>
<line x1="1030" y1="674.6" x2="1030" y2="987.9" stroke="#000" stroke-width="3.3" stroke-linecap="butt"/>
<line x1="1021" y1="986.25" x2="1495.75" y2="986.25" stroke="#000" stroke-width="3.3" stroke-linecap="butt"/>
<line x1="1021" y1="676.25" x2="1030" y2="676.25" stroke="#000" stroke-width="3.3" stroke-linecap="butt"/>
<text x="1017" y="683.85" font-size="21.3" font-weight="700" text-anchor="end" fill="#000">250</text>
<line x1="1021" y1="738.5" x2="1030" y2="738.5" stroke="#000" stroke-width="3.3" stroke-linecap="butt"/>
<text x="1017" y="746.1" font-size="21.3" font-weight="700" text-anchor="end" fill="#000">200</text>
<line x1="1021" y1="800.5" x2="1030" y2="800.5" stroke="#000" stroke-width="3.3" stroke-linecap="butt"/>
<text x="1017" y="808.1" font-size="21.3" font-weight="700" text-anchor="end" fill="#000">150</text>
<line x1="1021" y1="862.5" x2="1030" y2="862.5" stroke="#000" stroke-width="3.3" stroke-linecap="butt"/>
<text x="1017" y="870.1" font-size="21.3" font-weight="700" text-anchor="end" fill="#000">100</text>
<line x1="1021" y1="924.5" x2="1030" y2="924.5" stroke="#000" stroke-width="3.3" stroke-linecap="butt"/>
<text x="1017" y="932.1" font-size="21.3" font-weight="700" text-anchor="end" fill="#000">50</text>
<line x1="1021" y1="986.25" x2="1030" y2="986.25" stroke="#000" stroke-width="3.3" stroke-linecap="butt"/>
<text x="1017" y="993.85" font-size="21.3" font-weight="700" text-anchor="end" fill="#000">0</text>
<text transform="rotate(-90 965 832)" x="965" y="832" font-size="22.3" font-weight="700" text-anchor="middle">Tumor Volume (mm<tspan font-size="17" dy="-12.5">3</tspan><tspan dy="12.5">)</tspan></text>
<text x="991.5" y="1015.5" font-size="21.8" font-weight="700" text-anchor="start" fill="#000">CFZ</text>
<text x="1087" y="1015.5" font-size="28" font-weight="400" text-anchor="middle" fill="#000">-</text>
<text x="1208.75" y="1015.5" font-size="28" font-weight="400" text-anchor="middle" fill="#000">+</text>
<text x="1329.5" y="1015.5" font-size="28" font-weight="400" text-anchor="middle" fill="#000">-</text>
<text x="1435.75" y="1015.5" font-size="28" font-weight="400" text-anchor="middle" fill="#000">+</text>
<line x1="1058" y1="1025.6" x2="1249.5" y2="1025.6" stroke="#000" stroke-width="1.4" stroke-linecap="butt"/>
<line x1="1281.5" y1="1024.7" x2="1473" y2="1024.7" stroke="#000" stroke-width="1.4" stroke-linecap="butt"/>
<text x="1151.75" y="1049.4" font-size="22.5" font-weight="700" text-anchor="middle" fill="#000">empty vector</text>
<text x="1390.25" y="1049.4" font-size="22.5" font-weight="700" text-anchor="middle" fill="#000">shNRF1</text>
<path d="M1206.25 695.5V676.75H1438.25V695.5" stroke="#000" stroke-width="4.6" fill="none" stroke-linejoin="miter"/>
<text x="1316" y="635" font-size="21.5" font-weight="400" text-anchor="middle" fill="#000">p=0.0026</text>
<text x="1317.5" y="674.2" font-size="32.5" font-weight="400" text-anchor="start" fill="#000" stroke="#000" stroke-width="0.7">*</text>
<g clip-path="url(#cph)">
<rect x="1010" y="1081.5" width="493" height="154" fill="url(#phbg)"/>
<rect x="1010" y="1078" width="493" height="9" fill="#c4c4c0" opacity="0.7" filter="url(#b3)"/>
<ellipse cx="1015" cy="1100" rx="40" ry="45" fill="#c9c9c5" opacity="0.55" filter="url(#b8)"/>
<ellipse cx="1500" cy="1095" rx="45" ry="30" fill="#cfcfcb" opacity="0.5" filter="url(#b8)"/>
<rect x="1010" y="1160" width="493" height="14" fill="#f1f1ee" opacity="0.8" filter="url(#b3)"/>
<ellipse cx="1142" cy="1140" rx="26" ry="22" fill="#a9a7a0" opacity="0.75" filter="url(#b5)"/>
<ellipse cx="1120" cy="1158" rx="34" ry="7" fill="#a9a7a0" opacity="0.6" filter="url(#b3)"/>
<ellipse cx="1262" cy="1146" rx="22" ry="20" fill="#aeaca5" opacity="0.7" filter="url(#b5)"/>
<ellipse cx="1238" cy="1163" rx="30" ry="6" fill="#aeaca5" opacity="0.55" filter="url(#b3)"/>
<ellipse cx="1380" cy="1142" rx="26" ry="22" fill="#a9a7a0" opacity="0.75" filter="url(#b5)"/>
<ellipse cx="1356" cy="1160" rx="34" ry="7" fill="#a9a7a0" opacity="0.6" filter="url(#b3)"/>
<ellipse cx="1480" cy="1148" rx="20" ry="18" fill="#b3b1aa" opacity="0.7" filter="url(#b5)"/>
<ellipse cx="1462" cy="1163" rx="24" ry="6" fill="#b3b1aa" opacity="0.55" filter="url(#b3)"/>
<g filter="url(#b15)">
<path d="M1078 1112 C1079 1102 1092 1098 1104 1096.5 C1118 1096 1133 1099 1141 1106 C1148 1113 1150.5 1124 1148 1135 C1146 1146 1138 1153 1125 1155.5 C1112 1158 1098 1155 1089 1149 C1082 1144 1079 1139 1081 1133 C1078 1127 1077 1119 1078 1112Z" fill="url(#t1)"/>
<path d="M1195 1127 C1195 1113 1206 1104 1220 1101.5 C1236 1099 1252 1104 1261 1113 C1268 1121 1268 1133 1263 1143 C1257 1154 1245 1162 1232 1162 C1218 1161 1206 1153 1200 1143 C1197 1138 1195 1133 1195 1127Z" fill="url(#t2)"/>
<path d="M1313 1122 C1312 1109 1322 1100 1336 1097.5 C1350 1095.5 1366 1099 1377 1106 C1386 1112 1389 1123 1386 1134 C1383 1146 1372 1155 1357 1157.5 C1342 1159 1326 1154 1318 1144 C1314 1138 1313 1130 1313 1122Z" fill="url(#t3)"/>
<path d="M1432 1128 C1433 1115 1443 1105 1455 1103 C1467 1102 1476 1109 1480 1119 C1485 1124 1487 1133 1485 1142 C1482 1153 1472 1160.5 1460 1160.5 C1448 1160 1438 1152 1434 1142 C1432 1137 1431.5 1133 1432 1128Z" fill="url(#t4)"/>
</g>
<ellipse cx="1108" cy="1130" rx="17" ry="12" fill="#f0d3cc" opacity="0.85" filter="url(#b3)"/>
<ellipse cx="1133" cy="1113" rx="8" ry="4" fill="#d9646a" opacity="0.55" filter="url(#b2)" transform="rotate(35 1133 1113)"/>
<ellipse cx="1102" cy="1115" rx="3" ry="2" fill="#fff" opacity="0.8" filter="url(#b07)"/>
<ellipse cx="1087" cy="1118" rx="3" ry="2" fill="#fff" opacity="0.7" filter="url(#b07)"/>
<ellipse cx="1097" cy="1138" rx="2" ry="2" fill="#fff" opacity="0.7" filter="url(#b07)"/>
<ellipse cx="1232" cy="1125" rx="16" ry="14" fill="#f4dccb" opacity="0.9" filter="url(#b3)"/>
<ellipse cx="1216" cy="1117" rx="5" ry="3" fill="#fff" opacity="0.85" filter="url(#b1)"/>
<ellipse cx="1250" cy="1130" rx="3" ry="8" fill="#dd6d6a" opacity="0.5" filter="url(#b2)"/>
<ellipse cx="1348" cy="1122" rx="16" ry="13" fill="#e6ac9f" opacity="0.85" filter="url(#b3)"/>
<ellipse cx="1326" cy="1141" rx="6" ry="5" fill="#cc2f3a" opacity="0.7" filter="url(#b2)"/>
<ellipse cx="1370" cy="1111" rx="9" ry="5" fill="#cf4f5a" opacity="0.65" filter="url(#b2)"/>
<ellipse cx="1352" cy="1148" rx="14" ry="4" fill="#cd4f55" opacity="0.5" filter="url(#b2)"/>
<ellipse cx="1457" cy="1122" rx="11" ry="9" fill="#f8ece0" opacity="0.9" filter="url(#b3)"/>
<ellipse cx="1461" cy="1125" rx="3" ry="2.5" fill="#fff" opacity="0.9" filter="url(#b07)"/>
<path d="M1010 1178.5 L1503 1174.5 L1503 1236 L1010 1236Z" fill="#cdcdd3"/>
<rect x="1085" y="1200" width="55" height="36" fill="#e4e4ec" opacity="0.8" filter="url(#b3)"/>
<rect x="1262" y="1198" width="90" height="38" fill="#dcdce6" opacity="0.8" filter="url(#b3)"/>
<rect x="1024" y="1199" width="24" height="17" fill="#f4f4f6" opacity="0.9" filter="url(#b2)"/>
<rect x="1013" y="1186" width="5" height="42" fill="#f4f4f6" opacity="0.8" filter="url(#b1)"/>
<path d="M1010 1177 L1503 1173 L1503 1184 L1010 1188Z" fill="#828284" opacity="0.92" filter="url(#b15)"/>
<g filter="url(#b15)" stroke="#5c5c60" stroke-width="2.5">
<line x1="1019.2" y1="1181.9" x2="1019.2" y2="1222.9" stroke-width="2.8"/>
<line x1="1025.2" y1="1181.9" x2="1025.2" y2="1196.9" stroke-width="3.1"/>
<line x1="1031.2" y1="1181.8" x2="1031.2" y2="1196.8" stroke-width="3.1"/>
<line x1="1037.3" y1="1181.8" x2="1037.3" y2="1196.8" stroke-width="3.1"/>
<line x1="1043.3" y1="1181.7" x2="1043.3" y2="1196.7" stroke-width="3.1"/>
<line x1="1049.3" y1="1181.7" x2="1049.3" y2="1210.8" stroke-width="2.6"/>
<line x1="1055.3" y1="1181.6" x2="1055.3" y2="1196.6" stroke-width="3.1"/>
<line x1="1061.3" y1="1181.6" x2="1061.3" y2="1196.6" stroke-width="3.1"/>
<line x1="1067.4" y1="1181.5" x2="1067.4" y2="1196.5" stroke-width="3.1"/>
<line x1="1073.4" y1="1181.5" x2="1073.4" y2="1196.5" stroke-width="3.1"/>
<line x1="1079.4" y1="1181.4" x2="1079.4" y2="1222.6" stroke-width="2.8"/>
<line x1="1085.4" y1="1181.4" x2="1085.4" y2="1196.4" stroke-width="3.1"/>
<line x1="1091.4" y1="1181.3" x2="1091.4" y2="1196.3" stroke-width="3.1"/>
<line x1="1097.5" y1="1181.3" x2="1097.5" y2="1196.3" stroke-width="3.1"/>
<line x1="1103.5" y1="1181.2" x2="1103.5" y2="1196.2" stroke-width="3.1"/>
<line x1="1109.5" y1="1181.2" x2="1109.5" y2="1210.4" stroke-width="2.6"/>
<line x1="1115.5" y1="1181.1" x2="1115.5" y2="1196.1" stroke-width="3.1"/>
<line x1="1121.5" y1="1181.1" x2="1121.5" y2="1196.1" stroke-width="3.1"/>
<line x1="1127.6" y1="1181.0" x2="1127.6" y2="1196.0" stroke-width="3.1"/>
<line x1="1133.6" y1="1181.0" x2="1133.6" y2="1196.0" stroke-width="3.1"/>
<line x1="1139.6" y1="1180.9" x2="1139.6" y2="1222.2" stroke-width="2.8"/>
<line x1="1145.6" y1="1180.9" x2="1145.6" y2="1195.9" stroke-width="3.1"/>
<line x1="1151.6" y1="1180.9" x2="1151.6" y2="1195.9" stroke-width="3.1"/>
<line x1="1157.7" y1="1180.8" x2="1157.7" y2="1195.8" stroke-width="3.1"/>
<line x1="1163.7" y1="1180.8" x2="1163.7" y2="1195.8" stroke-width="3.1"/>
<line x1="1169.7" y1="1180.7" x2="1169.7" y2="1210.0" stroke-width="2.6"/>
<line x1="1175.7" y1="1180.7" x2="1175.7" y2="1195.7" stroke-width="3.1"/>
<line x1="1181.7" y1="1180.6" x2="1181.7" y2="1195.6" stroke-width="3.1"/>
<line x1="1187.8" y1="1180.6" x2="1187.8" y2="1195.6" stroke-width="3.1"/>
<line x1="1193.8" y1="1180.5" x2="1193.8" y2="1195.5" stroke-width="3.1"/>
<line x1="1199.8" y1="1180.5" x2="1199.8" y2="1221.8" stroke-width="2.8"/>
<line x1="1205.8" y1="1180.4" x2="1205.8" y2="1195.4" stroke-width="3.1"/>
<line x1="1211.8" y1="1180.4" x2="1211.8" y2="1195.4" stroke-width="3.1"/>
<line x1="1217.9" y1="1180.3" x2="1217.9" y2="1195.3" stroke-width="3.1"/>
<line x1="1223.9" y1="1180.3" x2="1223.9" y2="1195.3" stroke-width="3.1"/>
<line x1="1229.9" y1="1180.2" x2="1229.9" y2="1209.7" stroke-width="2.6"/>
<line x1="1235.9" y1="1180.2" x2="1235.9" y2="1195.2" stroke-width="3.1"/>
<line x1="1241.9" y1="1180.1" x2="1241.9" y2="1195.1" stroke-width="3.1"/>
<line x1="1248.0" y1="1180.1" x2="1248.0" y2="1195.1" stroke-width="3.1"/>
<line x1="1254.0" y1="1180.0" x2="1254.0" y2="1195.0" stroke-width="3.1"/>
<line x1="1260.0" y1="1180.0" x2="1260.0" y2="1221.5" stroke-width="2.8"/>
<line x1="1266.0" y1="1179.9" x2="1266.0" y2="1194.9" stroke-width="3.1"/>
<line x1="1272.0" y1="1179.9" x2="1272.0" y2="1194.9" stroke-width="3.1"/>
<line x1="1278.1" y1="1179.8" x2="1278.1" y2="1194.8" stroke-width="3.1"/>
<line x1="1284.1" y1="1179.8" x2="1284.1" y2="1194.8" stroke-width="3.1"/>
<line x1="1290.1" y1="1179.7" x2="1290.1" y2="1209.3" stroke-width="2.6"/>
<line x1="1296.1" y1="1179.7" x2="1296.1" y2="1194.7" stroke-width="3.1"/>
<line x1="1302.1" y1="1179.6" x2="1302.1" y2="1194.6" stroke-width="3.1"/>
<line x1="1308.2" y1="1179.6" x2="1308.2" y2="1194.6" stroke-width="3.1"/>
<line x1="1314.2" y1="1179.5" x2="1314.2" y2="1194.5" stroke-width="3.1"/>
<line x1="1320.2" y1="1179.5" x2="1320.2" y2="1221.1" stroke-width="2.8"/>
<line x1="1326.2" y1="1179.4" x2="1326.2" y2="1194.4" stroke-width="3.1"/>
<line x1="1332.2" y1="1179.4" x2="1332.2" y2="1194.4" stroke-width="3.1"/>
<line x1="1338.3" y1="1179.3" x2="1338.3" y2="1194.3" stroke-width="3.1"/>
<line x1="1344.3" y1="1179.3" x2="1344.3" y2="1194.3" stroke-width="3.1"/>
<line x1="1350.3" y1="1179.2" x2="1350.3" y2="1208.9" stroke-width="2.6"/>
<line x1="1356.3" y1="1179.2" x2="1356.3" y2="1194.2" stroke-width="3.1"/>
<line x1="1362.3" y1="1179.1" x2="1362.3" y2="1194.1" stroke-width="3.1"/>
<line x1="1368.4" y1="1179.1" x2="1368.4" y2="1194.1" stroke-width="3.1"/>
<line x1="1374.4" y1="1179.0" x2="1374.4" y2="1194.0" stroke-width="3.1"/>
<line x1="1380.4" y1="1179.0" x2="1380.4" y2="1220.7" stroke-width="2.8"/>
<line x1="1386.4" y1="1178.9" x2="1386.4" y2="1193.9" stroke-width="3.1"/>
<line x1="1392.4" y1="1178.9" x2="1392.4" y2="1193.9" stroke-width="3.1"/>
<line x1="1398.5" y1="1178.8" x2="1398.5" y2="1193.8" stroke-width="3.1"/>
<line x1="1404.5" y1="1178.8" x2="1404.5" y2="1193.8" stroke-width="3.1"/>
<line x1="1410.5" y1="1178.8" x2="1410.5" y2="1208.6" stroke-width="2.6"/>
<line x1="1416.5" y1="1178.7" x2="1416.5" y2="1193.7" stroke-width="3.1"/>
<line x1="1422.5" y1="1178.7" x2="1422.5" y2="1193.7" stroke-width="3.1"/>
<line x1="1428.6" y1="1178.6" x2="1428.6" y2="1193.6" stroke-width="3.1"/>
<line x1="1434.6" y1="1178.6" x2="1434.6" y2="1193.6" stroke-width="3.1"/>
<line x1="1440.6" y1="1178.5" x2="1440.6" y2="1220.4" stroke-width="2.8"/>
<line x1="1446.6" y1="1178.5" x2="1446.6" y2="1193.5" stroke-width="3.1"/>
<line x1="1452.6" y1="1178.4" x2="1452.6" y2="1193.4" stroke-width="3.1"/>
<line x1="1458.7" y1="1178.4" x2="1458.7" y2="1193.4" stroke-width="3.1"/>
<line x1="1464.7" y1="1178.3" x2="1464.7" y2="1193.3" stroke-width="3.1"/>
<line x1="1470.7" y1="1178.3" x2="1470.7" y2="1208.2" stroke-width="2.6"/>
<line x1="1476.7" y1="1178.2" x2="1476.7" y2="1193.2" stroke-width="3.1"/>
<line x1="1482.7" y1="1178.2" x2="1482.7" y2="1193.2" stroke-width="3.1"/>
<line x1="1488.8" y1="1178.1" x2="1488.8" y2="1193.1" stroke-width="3.1"/>
<line x1="1494.8" y1="1178.1" x2="1494.8" y2="1193.1" stroke-width="3.1"/>
<line x1="1500.8" y1="1178.0" x2="1500.8" y2="1220.0" stroke-width="2.8"/>
</g>
<g filter="url(#b1)">
<text x="1025" y="1225.5" font-size="10.5" font-weight="700" text-anchor="start" fill="#2a2a2e">CM</text>
<text x="1076.4" y="1225.0776876267748" font-size="12" font-weight="700" text-anchor="end" fill="#2a2a2e">1</text>
<text x="1136.6000000000001" y="1224.711359026369" font-size="12" font-weight="700" text-anchor="end" fill="#2a2a2e">2</text>
<text x="1196.8" y="1224.3450304259634" font-size="12" font-weight="700" text-anchor="end" fill="#2a2a2e">3</text>
<text x="1257.0" y="1223.978701825558" font-size="12" font-weight="700" text-anchor="end" fill="#2a2a2e">4</text>
<text x="1317.2" y="1223.6123732251522" font-size="12" font-weight="700" text-anchor="end" fill="#2a2a2e">5</text>
<text x="1377.4" y="1223.2460446247464" font-size="12" font-weight="700" text-anchor="end" fill="#2a2a2e">6</text>
<text x="1437.6" y="1222.8797160243407" font-size="12" font-weight="700" text-anchor="end" fill="#2a2a2e">7</text>
<text x="1497.8" y="1222.513387423935" font-size="12" font-weight="700" text-anchor="end" fill="#2a2a2e">8</text>
</g>
<rect x="1009.5" y="1081.5" width="3" height="154" fill="#77777a" opacity="0.8" filter="url(#b07)"/>
<rect x="1009.5" y="1166" width="3.4" height="30" fill="#333" opacity="0.85" filter="url(#b1)"/>
</g>
</g>
<g id="panelF">
<text x="61" y="1418.7" font-size="51.5" font-weight="700" text-anchor="start" fill="#000">F</text>
<rect x="278.75" y="1635" width="106.25" height="238.25" fill="#000"/>
<rect x="429.5" y="1711.25" width="106.5" height="162.0" fill="#808080"/>
<rect x="580.5" y="1685.75" width="106.25" height="187.5" fill="#5856f6"/>
<rect x="731.25" y="1770.75" width="106.25" height="102.5" fill="#56a1fa"/>
<line x1="332" y1="1586.75" x2="332" y2="1689.25" stroke="#666666" stroke-width="3.4" stroke-linecap="butt"/>
<line x1="307.0" y1="1586.75" x2="357.0" y2="1586.75" stroke="#666666" stroke-width="3.4" stroke-linecap="butt"/>
<line x1="307.0" y1="1689.25" x2="357.0" y2="1689.25" stroke="#666666" stroke-width="3.4" stroke-linecap="butt"/>
<line x1="482.75" y1="1680.5" x2="482.75" y2="1747.5" stroke="#000" stroke-width="3.4" stroke-linecap="butt"/>
<line x1="457.75" y1="1680.5" x2="507.75" y2="1680.5" stroke="#000" stroke-width="3.4" stroke-linecap="butt"/>
<line x1="457.75" y1="1747.5" x2="507.75" y2="1747.5" stroke="#000" stroke-width="3.4" stroke-linecap="butt"/>
<line x1="633.5" y1="1638" x2="633.5" y2="1739.25" stroke="#000" stroke-width="3.4" stroke-linecap="butt"/>
<line x1="608.5" y1="1638" x2="658.5" y2="1638" stroke="#000" stroke-width="3.4" stroke-linecap="butt"/>
<line x1="608.5" y1="1739.25" x2="658.5" y2="1739.25" stroke="#000" stroke-width="3.4" stroke-linecap="butt"/>
<line x1="784.5" y1="1756.25" x2="784.5" y2="1791.25" stroke="#000" stroke-width="3.4" stroke-linecap="butt"/>
<line x1="759.5" y1="1756.25" x2="809.5" y2="1756.25" stroke="#000" stroke-width="3.4" stroke-linecap="butt"/>
<line x1="759.5" y1="1791.25" x2="809.5" y2="1791.25" stroke="#000" stroke-width="3.4" stroke-linecap="butt"/>
<line x1="256.75" y1="1467.7" x2="256.75" y2="1875.05" stroke="#000" stroke-width="3.6" stroke-linecap="butt"/>
<line x1="245.5" y1="1873.25" x2="862" y2="1873.25" stroke="#000" stroke-width="3.6" stroke-linecap="butt"/>
<line x1="245.5" y1="1469.5" x2="256.75" y2="1469.5" stroke="#000" stroke-width="3.6" stroke-linecap="butt"/>
<text x="240.5" y="1479.7" font-size="28.5" font-weight="700" text-anchor="end" fill="#000">1.5</text>
<line x1="245.5" y1="1604" x2="256.75" y2="1604" stroke="#000" stroke-width="3.6" stroke-linecap="butt"/>
<text x="240.5" y="1614.2" font-size="28.5" font-weight="700" text-anchor="end" fill="#000">1.0</text>
<line x1="245.5" y1="1738.5" x2="256.75" y2="1738.5" stroke="#000" stroke-width="3.6" stroke-linecap="butt"/>
<text x="240.5" y="1748.7" font-size="28.5" font-weight="700" text-anchor="end" fill="#000">0.5</text>
<line x1="245.5" y1="1873.25" x2="256.75" y2="1873.25" stroke="#000" stroke-width="3.6" stroke-linecap="butt"/>
<text x="240.5" y="1883.45" font-size="28.5" font-weight="700" text-anchor="end" fill="#000">0.0</text>
<line x1="332" y1="1873.25" x2="332" y2="1884.5" stroke="#000" stroke-width="3.6" stroke-linecap="butt"/>
<line x1="482.75" y1="1873.25" x2="482.75" y2="1884.5" stroke="#000" stroke-width="3.6" stroke-linecap="butt"/>
<line x1="633.5" y1="1873.25" x2="633.5" y2="1884.5" stroke="#000" stroke-width="3.6" stroke-linecap="butt"/>
<line x1="784.5" y1="1873.25" x2="784.5" y2="1884.5" stroke="#000" stroke-width="3.6" stroke-linecap="butt"/>
<text x="201" y="1917" font-size="31" font-weight="700" text-anchor="start" fill="#000">CFZ</text>
<text x="337.3" y="1921" font-size="40" font-weight="400" text-anchor="middle" fill="#000">-</text>
<text x="485.5" y="1921.5" font-size="40" font-weight="400" text-anchor="middle" fill="#000">+</text>
<text x="632.3" y="1921" font-size="40" font-weight="400" text-anchor="middle" fill="#000">-</text>
<text x="789.8" y="1921.5" font-size="40" font-weight="400" text-anchor="middle" fill="#000">+</text>
<line x1="293" y1="1923.3" x2="542" y2="1923.3" stroke="#000" stroke-width="1.5" stroke-linecap="butt"/>
<line x1="589" y1="1928" x2="838.5" y2="1928" stroke="#000" stroke-width="1.5" stroke-linecap="butt"/>
<text x="415" y="1962.3" font-size="29.6" font-weight="700" text-anchor="middle" fill="#000">empty vector</text>
<text x="724.5" y="1962.3" font-size="29.6" font-weight="700" text-anchor="middle" fill="#000">shNRF1</text>
<text x="167.5" y="1670" font-size="30" font-weight="700" text-anchor="middle" fill="#000" transform="rotate(-90 167.5 1670)">Tumor Mass  (g)</text>
<path d="M485.75 1515.5V1490.75H787V1515.5" stroke="#000" stroke-width="5.6" fill="none" stroke-linejoin="miter"/>
<path d="M632.75 1622V1598H785.5V1622" stroke="#000" stroke-width="5.6" fill="none" stroke-linejoin="miter"/>
<text x="633.5" y="1458.7" font-size="33.6" font-weight="400" text-anchor="middle" fill="#000" stroke="#000" stroke-width="0.35">0.0400</text>
<text x="711.7" y="1569.6" font-size="33.6" font-weight="400" text-anchor="middle" fill="#000" stroke="#000" stroke-width="0.35">0.0402</text>
<text x="629.6" y="1497" font-size="44.5" font-weight="400" text-anchor="start" fill="#000" stroke="#000" stroke-width="0.9">*</text>
<text x="704.7" y="1607" font-size="44.5" font-weight="400" text-anchor="start" fill="#000" stroke="#000" stroke-width="0.9">*</text>
</g>
<g id="panelG">
<text x="970" y="1517" font-size="51.5" font-weight="700" text-anchor="start" fill="#000">G</text>
<text x="1446" y="1470" font-size="37" font-weight="700" text-anchor="middle" fill="#000">Body Mass</text>
<line x1="1202.5" y1="1618" x2="1202.5" y2="1665.5" stroke="#56a1fa" stroke-width="3.5" stroke-linecap="butt"/>
<line x1="1195.5" y1="1618" x2="1209.5" y2="1618" stroke="#56a1fa" stroke-width="3.5" stroke-linecap="butt"/>
<line x1="1195.5" y1="1665.5" x2="1209.5" y2="1665.5" stroke="#56a1fa" stroke-width="3.5" stroke-linecap="butt"/>
<line x1="1283.5" y1="1617" x2="1283.5" y2="1655.5" stroke="#56a1fa" stroke-width="3.5" stroke-linecap="butt"/>
<line x1="1276.5" y1="1617" x2="1290.5" y2="1617" stroke="#56a1fa" stroke-width="3.5" stroke-linecap="butt"/>
<line x1="1276.5" y1="1655.5" x2="1290.5" y2="1655.5" stroke="#56a1fa" stroke-width="3.5" stroke-linecap="butt"/>
<line x1="1364.6" y1="1606.5" x2="1364.6" y2="1641" stroke="#56a1fa" stroke-width="3.5" stroke-linecap="butt"/>
<line x1="1357.6" y1="1606.5" x2="1371.6" y2="1606.5" stroke="#56a1fa" stroke-width="3.5" stroke-linecap="butt"/>
<line x1="1357.6" y1="1641" x2="1371.6" y2="1641" stroke="#56a1fa" stroke-width="3.5" stroke-linecap="butt"/>
<line x1="1445.6" y1="1605.5" x2="1445.6" y2="1646" stroke="#56a1fa" stroke-width="3.5" stroke-linecap="butt"/>
<line x1="1438.6" y1="1605.5" x2="1452.6" y2="1605.5" stroke="#56a1fa" stroke-width="3.5" stroke-linecap="butt"/>
<line x1="1438.6" y1="1646" x2="1452.6" y2="1646" stroke="#56a1fa" stroke-width="3.5" stroke-linecap="butt"/>
<line x1="1526.7" y1="1604" x2="1526.7" y2="1646" stroke="#56a1fa" stroke-width="3.5" stroke-linecap="butt"/>
<line x1="1519.7" y1="1604" x2="1533.7" y2="1604" stroke="#56a1fa" stroke-width="3.5" stroke-linecap="butt"/>
<line x1="1519.7" y1="1646" x2="1533.7" y2="1646" stroke="#56a1fa" stroke-width="3.5" stroke-linecap="butt"/>
<line x1="1607.7" y1="1598.75" x2="1607.7" y2="1656.25" stroke="#56a1fa" stroke-width="3.5" stroke-linecap="butt"/>
<line x1="1600.7" y1="1598.75" x2="1614.7" y2="1598.75" stroke="#56a1fa" stroke-width="3.5" stroke-linecap="butt"/>
<line x1="1600.7" y1="1656.25" x2="1614.7" y2="1656.25" stroke="#56a1fa" stroke-width="3.5" stroke-linecap="butt"/>
<line x1="1688.8" y1="1607" x2="1688.8" y2="1648.75" stroke="#56a1fa" stroke-width="3.5" stroke-linecap="butt"/>
<line x1="1681.8" y1="1607" x2="1695.8" y2="1607" stroke="#56a1fa" stroke-width="3.5" stroke-linecap="butt"/>
<line x1="1681.8" y1="1648.75" x2="1695.8" y2="1648.75" stroke="#56a1fa" stroke-width="3.5" stroke-linecap="butt"/>
<polyline points="1202.5,1641.75 1283.5,1636.25 1364.6,1623.75 1445.6,1625.75 1526.7,1625 1607.7,1627.5 1688.8,1628" fill="none" stroke="#56a1fa" stroke-width="3.5" stroke-linejoin="round"/>
<path d="M1194.5 1635.25L1210.5 1635.25L1202.5 1649.25Z" fill="#56a1fa"/>
<path d="M1275.5 1629.75L1291.5 1629.75L1283.5 1643.75Z" fill="#56a1fa"/>
<path d="M1356.6 1617.25L1372.6 1617.25L1364.6 1631.25Z" fill="#56a1fa"/>
<path d="M1437.6 1619.25L1453.6 1619.25L1445.6 1633.25Z" fill="#56a1fa"/>
<path d="M1518.7 1618.5L1534.7 1618.5L1526.7 1632.5Z" fill="#56a1fa"/>
<path d="M1599.7 1621.0L1615.7 1621.0L1607.7 1635.0Z" fill="#56a1fa"/>
<path d="M1680.8 1621.5L1696.8 1621.5L1688.8 1635.5Z" fill="#56a1fa"/>
<line x1="1202.5" y1="1590.5" x2="1202.5" y2="1656" stroke="#5856f6" stroke-width="3.5" stroke-linecap="butt"/>
<line x1="1195.5" y1="1590.5" x2="1209.5" y2="1590.5" stroke="#5856f6" stroke-width="3.5" stroke-linecap="butt"/>
<line x1="1195.5" y1="1656" x2="1209.5" y2="1656" stroke="#5856f6" stroke-width="3.5" stroke-linecap="butt"/>
<line x1="1283.5" y1="1587" x2="1283.5" y2="1637" stroke="#5856f6" stroke-width="3.5" stroke-linecap="butt"/>
<line x1="1276.5" y1="1587" x2="1290.5" y2="1587" stroke="#5856f6" stroke-width="3.5" stroke-linecap="butt"/>
<line x1="1276.5" y1="1637" x2="1290.5" y2="1637" stroke="#5856f6" stroke-width="3.5" stroke-linecap="butt"/>
<line x1="1364.6" y1="1583" x2="1364.6" y2="1632" stroke="#5856f6" stroke-width="3.5" stroke-linecap="butt"/>
<line x1="1357.6" y1="1583" x2="1371.6" y2="1583" stroke="#5856f6" stroke-width="3.5" stroke-linecap="butt"/>
<line x1="1357.6" y1="1632" x2="1371.6" y2="1632" stroke="#5856f6" stroke-width="3.5" stroke-linecap="butt"/>
<line x1="1445.6" y1="1576.75" x2="1445.6" y2="1627" stroke="#5856f6" stroke-width="3.5" stroke-linecap="butt"/>
<line x1="1438.6" y1="1576.75" x2="1452.6" y2="1576.75" stroke="#5856f6" stroke-width="3.5" stroke-linecap="butt"/>
<line x1="1438.6" y1="1627" x2="1452.6" y2="1627" stroke="#5856f6" stroke-width="3.5" stroke-linecap="butt"/>
<line x1="1526.7" y1="1566.25" x2="1526.7" y2="1635" stroke="#5856f6" stroke-width="3.5" stroke-linecap="butt"/>
<line x1="1519.7" y1="1566.25" x2="1533.7" y2="1566.25" stroke="#5856f6" stroke-width="3.5" stroke-linecap="butt"/>
<line x1="1519.7" y1="1635" x2="1533.7" y2="1635" stroke="#5856f6" stroke-width="3.5" stroke-linecap="butt"/>
<line x1="1607.7" y1="1578.75" x2="1607.7" y2="1647.5" stroke="#5856f6" stroke-width="3.5" stroke-linecap="butt"/>
<line x1="1600.7" y1="1578.75" x2="1614.7" y2="1578.75" stroke="#5856f6" stroke-width="3.5" stroke-linecap="butt"/>
<line x1="1600.7" y1="1647.5" x2="1614.7" y2="1647.5" stroke="#5856f6" stroke-width="3.5" stroke-linecap="butt"/>
<line x1="1688.8" y1="1579.25" x2="1688.8" y2="1631.5" stroke="#5856f6" stroke-width="3.5" stroke-linecap="butt"/>
<line x1="1681.8" y1="1579.25" x2="1695.8" y2="1579.25" stroke="#5856f6" stroke-width="3.5" stroke-linecap="butt"/>
<line x1="1681.8" y1="1631.5" x2="1695.8" y2="1631.5" stroke="#5856f6" stroke-width="3.5" stroke-linecap="butt"/>
<polyline points="1202.5,1624.5 1283.5,1612 1364.6,1607.5 1445.6,1602 1526.7,1600.75 1607.7,1612.5 1688.8,1605.5" fill="none" stroke="#5856f6" stroke-width="3.5" stroke-linejoin="round"/>
<path d="M1194.5 1631.0L1210.5 1631.0L1202.5 1617.0Z" fill="#5856f6"/>
<path d="M1275.5 1618.5L1291.5 1618.5L1283.5 1604.5Z" fill="#5856f6"/>
<path d="M1356.6 1614.0L1372.6 1614.0L1364.6 1600.0Z" fill="#5856f6"/>
<path d="M1437.6 1608.5L1453.6 1608.5L1445.6 1594.5Z" fill="#5856f6"/>
<path d="M1518.7 1607.25L1534.7 1607.25L1526.7 1593.25Z" fill="#5856f6"/>
<path d="M1599.7 1619.0L1615.7 1619.0L1607.7 1605.0Z" fill="#5856f6"/>
<path d="M1680.8 1612.0L1696.8 1612.0L1688.8 1598.0Z" fill="#5856f6"/>
<line x1="1202.5" y1="1640" x2="1202.5" y2="1661.25" stroke="#808080" stroke-width="3.5" stroke-linecap="butt"/>
<line x1="1195.5" y1="1640" x2="1209.5" y2="1640" stroke="#808080" stroke-width="3.5" stroke-linecap="butt"/>
<line x1="1195.5" y1="1661.25" x2="1209.5" y2="1661.25" stroke="#808080" stroke-width="3.5" stroke-linecap="butt"/>
<line x1="1283.5" y1="1630" x2="1283.5" y2="1661.25" stroke="#808080" stroke-width="3.5" stroke-linecap="butt"/>
<line x1="1276.5" y1="1630" x2="1290.5" y2="1630" stroke="#808080" stroke-width="3.5" stroke-linecap="butt"/>
<line x1="1276.5" y1="1661.25" x2="1290.5" y2="1661.25" stroke="#808080" stroke-width="3.5" stroke-linecap="butt"/>
<line x1="1364.6" y1="1614" x2="1364.6" y2="1656.25" stroke="#808080" stroke-width="3.5" stroke-linecap="butt"/>
<line x1="1357.6" y1="1614" x2="1371.6" y2="1614" stroke="#808080" stroke-width="3.5" stroke-linecap="butt"/>
<line x1="1357.6" y1="1656.25" x2="1371.6" y2="1656.25" stroke="#808080" stroke-width="3.5" stroke-linecap="butt"/>
<line x1="1445.6" y1="1608" x2="1445.6" y2="1647" stroke="#808080" stroke-width="3.5" stroke-linecap="butt"/>
<line x1="1438.6" y1="1608" x2="1452.6" y2="1608" stroke="#808080" stroke-width="3.5" stroke-linecap="butt"/>
<line x1="1438.6" y1="1647" x2="1452.6" y2="1647" stroke="#808080" stroke-width="3.5" stroke-linecap="butt"/>
<line x1="1526.7" y1="1616" x2="1526.7" y2="1649.25" stroke="#808080" stroke-width="3.5" stroke-linecap="butt"/>
<line x1="1519.7" y1="1616" x2="1533.7" y2="1616" stroke="#808080" stroke-width="3.5" stroke-linecap="butt"/>
<line x1="1519.7" y1="1649.25" x2="1533.7" y2="1649.25" stroke="#808080" stroke-width="3.5" stroke-linecap="butt"/>
<line x1="1607.7" y1="1615" x2="1607.7" y2="1650" stroke="#808080" stroke-width="3.5" stroke-linecap="butt"/>
<line x1="1600.7" y1="1615" x2="1614.7" y2="1615" stroke="#808080" stroke-width="3.5" stroke-linecap="butt"/>
<line x1="1600.7" y1="1650" x2="1614.7" y2="1650" stroke="#808080" stroke-width="3.5" stroke-linecap="butt"/>
<line x1="1688.8" y1="1598" x2="1688.8" y2="1627" stroke="#808080" stroke-width="3.5" stroke-linecap="butt"/>
<line x1="1681.8" y1="1598" x2="1695.8" y2="1598" stroke="#808080" stroke-width="3.5" stroke-linecap="butt"/>
<line x1="1681.8" y1="1627" x2="1695.8" y2="1627" stroke="#808080" stroke-width="3.5" stroke-linecap="butt"/>
<polyline points="1202.5,1650.5 1283.5,1645.75 1364.6,1635 1445.6,1627.5 1526.7,1632.5 1607.7,1632.5 1688.8,1612.5" fill="none" stroke="#808080" stroke-width="3.5" stroke-linejoin="round"/>
<rect x="1195.2" y="1643.2" width="14.6" height="14.6" fill="#808080"/>
<rect x="1276.2" y="1638.45" width="14.6" height="14.6" fill="#808080"/>
<rect x="1357.3" y="1627.7" width="14.6" height="14.6" fill="#808080"/>
<rect x="1438.3" y="1620.2" width="14.6" height="14.6" fill="#808080"/>
<rect x="1519.4" y="1625.2" width="14.6" height="14.6" fill="#808080"/>
<rect x="1600.4" y="1625.2" width="14.6" height="14.6" fill="#808080"/>
<rect x="1681.5" y="1605.2" width="14.6" height="14.6" fill="#808080"/>
<line x1="1202.5" y1="1619.25" x2="1202.5" y2="1649.25" stroke="#000" stroke-width="3.5" stroke-linecap="butt"/>
<line x1="1195.5" y1="1619.25" x2="1209.5" y2="1619.25" stroke="#000" stroke-width="3.5" stroke-linecap="butt"/>
<line x1="1195.5" y1="1649.25" x2="1209.5" y2="1649.25" stroke="#000" stroke-width="3.5" stroke-linecap="butt"/>
<line x1="1283.5" y1="1603.75" x2="1283.5" y2="1642" stroke="#000" stroke-width="3.5" stroke-linecap="butt"/>
<line x1="1276.5" y1="1603.75" x2="1290.5" y2="1603.75" stroke="#000" stroke-width="3.5" stroke-linecap="butt"/>
<line x1="1276.5" y1="1642" x2="1290.5" y2="1642" stroke="#000" stroke-width="3.5" stroke-linecap="butt"/>
<line x1="1364.6" y1="1599.25" x2="1364.6" y2="1626.25" stroke="#000" stroke-width="3.5" stroke-linecap="butt"/>
<line x1="1357.6" y1="1599.25" x2="1371.6" y2="1599.25" stroke="#000" stroke-width="3.5" stroke-linecap="butt"/>
<line x1="1357.6" y1="1626.25" x2="1371.6" y2="1626.25" stroke="#000" stroke-width="3.5" stroke-linecap="butt"/>
<line x1="1445.6" y1="1593" x2="1445.6" y2="1625" stroke="#000" stroke-width="3.5" stroke-linecap="butt"/>
<line x1="1438.6" y1="1593" x2="1452.6" y2="1593" stroke="#000" stroke-width="3.5" stroke-linecap="butt"/>
<line x1="1438.6" y1="1625" x2="1452.6" y2="1625" stroke="#000" stroke-width="3.5" stroke-linecap="butt"/>
<line x1="1526.7" y1="1592" x2="1526.7" y2="1633.75" stroke="#000" stroke-width="3.5" stroke-linecap="butt"/>
<line x1="1519.7" y1="1592" x2="1533.7" y2="1592" stroke="#000" stroke-width="3.5" stroke-linecap="butt"/>
<line x1="1519.7" y1="1633.75" x2="1533.7" y2="1633.75" stroke="#000" stroke-width="3.5" stroke-linecap="butt"/>
<line x1="1607.7" y1="1594.25" x2="1607.7" y2="1630.75" stroke="#000" stroke-width="3.5" stroke-linecap="butt"/>
<line x1="1600.7" y1="1594.25" x2="1614.7" y2="1594.25" stroke="#000" stroke-width="3.5" stroke-linecap="butt"/>
<line x1="1600.7" y1="1630.75" x2="1614.7" y2="1630.75" stroke="#000" stroke-width="3.5" stroke-linecap="butt"/>
<line x1="1688.8" y1="1591.25" x2="1688.8" y2="1632" stroke="#000" stroke-width="3.5" stroke-linecap="butt"/>
<line x1="1681.8" y1="1591.25" x2="1695.8" y2="1591.25" stroke="#000" stroke-width="3.5" stroke-linecap="butt"/>
<line x1="1681.8" y1="1632" x2="1695.8" y2="1632" stroke="#000" stroke-width="3.5" stroke-linecap="butt"/>
<polyline points="1202.5,1634.25 1283.5,1623 1364.6,1612.5 1445.6,1608.75 1526.7,1612.5 1607.7,1612.5 1688.8,1612" fill="none" stroke="#000" stroke-width="3.5" stroke-linejoin="round"/>
<circle cx="1202.5" cy="1634.25" r="7.6" fill="#000"/>
<circle cx="1283.5" cy="1623" r="7.6" fill="#000"/>
<circle cx="1364.6" cy="1612.5" r="7.6" fill="#000"/>
<circle cx="1445.6" cy="1608.75" r="7.6" fill="#000"/>
<circle cx="1526.7" cy="1612.5" r="7.6" fill="#000"/>
<circle cx="1607.7" cy="1612.5" r="7.6" fill="#000"/>
<circle cx="1688.8" cy="1612" r="7.6" fill="#000"/>
<line x1="1163" y1="1513.2" x2="1163" y2="1895.05" stroke="#000" stroke-width="3.6" stroke-linecap="butt"/>
<line x1="1152" y1="1893.25" x2="1730.75" y2="1893.25" stroke="#000" stroke-width="3.6" stroke-linecap="butt"/>
<line x1="1152" y1="1515" x2="1163" y2="1515" stroke="#000" stroke-width="3.6" stroke-linecap="butt"/>
<text x="1148" y="1525.2" font-size="28.5" font-weight="700" text-anchor="end" fill="#000">30</text>
<line x1="1152" y1="1641.1" x2="1163" y2="1641.1" stroke="#000" stroke-width="3.6" stroke-linecap="butt"/>
<text x="1148" y="1651.3" font-size="28.5" font-weight="700" text-anchor="end" fill="#000">20</text>
<line x1="1152" y1="1767.2" x2="1163" y2="1767.2" stroke="#000" stroke-width="3.6" stroke-linecap="butt"/>
<text x="1148" y="1777.4" font-size="28.5" font-weight="700" text-anchor="end" fill="#000">10</text>
<line x1="1152" y1="1893.25" x2="1163" y2="1893.25" stroke="#000" stroke-width="3.6" stroke-linecap="butt"/>
<text x="1148" y="1903.45" font-size="28.5" font-weight="700" text-anchor="end" fill="#000">0</text>
<line x1="1202.5" y1="1893.25" x2="1202.5" y2="1904" stroke="#000" stroke-width="3.6" stroke-linecap="butt"/>
<text x="1213.5" y="1929" font-size="28" font-weight="700" text-anchor="end" fill="#000" transform="rotate(-45 1213.5 1929)">2</text>
<line x1="1283.5" y1="1893.25" x2="1283.5" y2="1904" stroke="#000" stroke-width="3.6" stroke-linecap="butt"/>
<text x="1294.5" y="1929" font-size="28" font-weight="700" text-anchor="end" fill="#000" transform="rotate(-45 1294.5 1929)">9</text>
<line x1="1364.6" y1="1893.25" x2="1364.6" y2="1904" stroke="#000" stroke-width="3.6" stroke-linecap="butt"/>
<text x="1375.6" y="1929" font-size="28" font-weight="700" text-anchor="end" fill="#000" transform="rotate(-45 1375.6 1929)">12.5</text>
<line x1="1445.6" y1="1893.25" x2="1445.6" y2="1904" stroke="#000" stroke-width="3.6" stroke-linecap="butt"/>
<text x="1456.6" y="1929" font-size="28" font-weight="700" text-anchor="end" fill="#000" transform="rotate(-45 1456.6 1929)">16.5</text>
<line x1="1526.7" y1="1893.25" x2="1526.7" y2="1904" stroke="#000" stroke-width="3.6" stroke-linecap="butt"/>
<text x="1537.7" y="1929" font-size="28" font-weight="700" text-anchor="end" fill="#000" transform="rotate(-45 1537.7 1929)">19.5</text>
<line x1="1607.7" y1="1893.25" x2="1607.7" y2="1904" stroke="#000" stroke-width="3.6" stroke-linecap="butt"/>
<text x="1618.7" y="1929" font-size="28" font-weight="700" text-anchor="end" fill="#000" transform="rotate(-45 1618.7 1929)">23</text>
<line x1="1688.8" y1="1893.25" x2="1688.8" y2="1904" stroke="#000" stroke-width="3.6" stroke-linecap="butt"/>
<text x="1699.8" y="1929" font-size="28" font-weight="700" text-anchor="end" fill="#000" transform="rotate(-45 1699.8 1929)">26.5</text>
<text x="1446.5" y="2009.6" font-size="27.8" font-weight="700" text-anchor="middle" fill="#000">Days post-treatment</text>
<text x="1098.75" y="1703" font-size="31.3" font-weight="700" text-anchor="middle" fill="#000" transform="rotate(-90 1098.75 1703)">Body mass  (g)</text>
<line x1="1315" y1="1730.5" x2="1355" y2="1730.5" stroke="#000" stroke-width="3.5" stroke-linecap="butt"/>
<circle cx="1335" cy="1730.5" r="7.9799999999999995" fill="#000"/>
<text x="1377.5" y="1739.5" font-size="27.4" font-weight="400" text-anchor="start" fill="#000" style="font-kerning:none">Vector + VEH</text>
<line x1="1315" y1="1760.5" x2="1355" y2="1760.5" stroke="#808080" stroke-width="3.5" stroke-linecap="butt"/>
<rect x="1327.335" y="1752.835" width="15.33" height="15.33" fill="#808080"/>
<text x="1377.5" y="1769.25" font-size="27.4" font-weight="400" text-anchor="start" fill="#000" style="font-kerning:none">Vector + CFZ</text>
<line x1="1315" y1="1787.7" x2="1355" y2="1787.7" stroke="#5856f6" stroke-width="3.5" stroke-linecap="butt"/>
<path d="M1326.6 1794.525L1343.4 1794.525L1335 1779.825Z" fill="#5856f6"/>
<text x="1377.5" y="1796.25" font-size="27.4" font-weight="400" text-anchor="start" fill="#000" style="font-kerning:none">shNRF1 + VEH</text>
<line x1="1315" y1="1815.4" x2="1355" y2="1815.4" stroke="#56a1fa" stroke-width="3.5" stroke-linecap="butt"/>
<path d="M1326.6 1808.575L1343.4 1808.575L1335 1823.275Z" fill="#56a1fa"/>
<text x="1377.5" y="1824.25" font-size="27.4" font-weight="400" text-anchor="start" fill="#000" style="font-kerning:none">shNRF1 + CFZ</text>
</g>
</svg>
</body></html>
